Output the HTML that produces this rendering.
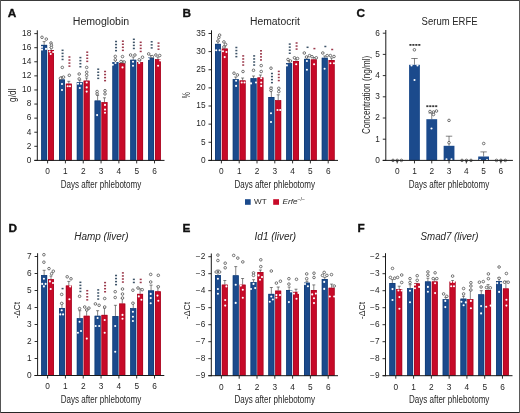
<!DOCTYPE html>
<html><head><meta charset="utf-8"><style>
html,body{margin:0;padding:0;background:#fff;}
body{width:520px;height:413px;overflow:hidden;position:relative;}
svg{position:absolute;left:0;top:0;font-family:'Liberation Sans', sans-serif;filter:blur(0.3px);}
</style></head><body>
<svg width="520" height="413" viewBox="0 0 520 413">
<rect x="0" y="0" width="520" height="413" fill="#fff"/>
<text x="7.85" y="16.90" font-size="11.8" text-anchor="start" fill="#111" font-weight="bold" stroke="#111" stroke-width="0.35">A</text>
<text x="101.00" y="24.50" font-size="10" text-anchor="middle" fill="#262626" textLength="56.5" lengthAdjust="spacingAndGlyphs">Hemoglobin</text>
<line x1="44.15" y1="41.60" x2="44.15" y2="44.90" stroke="#333" stroke-width="0.6"/>
<line x1="42.65" y1="41.60" x2="45.65" y2="41.60" stroke="#333" stroke-width="0.6"/>
<rect x="41.20" y="44.90" width="5.90" height="115.50" fill="#1b4a8c"/>
<rect x="41.50" y="45.20" width="5.30" height="115.20" fill="none" stroke="#0f3a72" stroke-width="0.6"/>
<circle cx="42.00" cy="37.30" r="1.3" fill="#fff" stroke="#4a4a4a" stroke-width="0.75"/>
<circle cx="46.30" cy="39.10" r="1.3" fill="#fff" stroke="#4a4a4a" stroke-width="0.75"/>
<circle cx="42.00" cy="47.00" r="1.05" fill="#fff"/>
<circle cx="42.00" cy="49.60" r="1.05" fill="#fff"/>
<circle cx="46.00" cy="48.90" r="1.05" fill="#fff"/>
<line x1="51.00" y1="47.50" x2="51.00" y2="50.00" stroke="#333" stroke-width="0.6"/>
<line x1="49.50" y1="47.50" x2="52.50" y2="47.50" stroke="#333" stroke-width="0.6"/>
<rect x="48.05" y="50.00" width="5.90" height="110.40" fill="#c70a28"/>
<rect x="48.35" y="50.30" width="5.30" height="110.10" fill="none" stroke="#a0061e" stroke-width="0.6"/>
<circle cx="51.00" cy="43.00" r="1.3" fill="#fff" stroke="#4a4a4a" stroke-width="0.75"/>
<circle cx="51.40" cy="45.20" r="1.3" fill="#fff" stroke="#4a4a4a" stroke-width="0.75"/>
<circle cx="51.40" cy="47.50" r="1.3" fill="#fff" stroke="#4a4a4a" stroke-width="0.75"/>
<circle cx="49.60" cy="51.50" r="1.05" fill="#fff"/>
<circle cx="53.20" cy="52.00" r="1.05" fill="#fff"/>
<circle cx="50.70" cy="54.00" r="1.05" fill="#fff"/>
<line x1="61.97" y1="76.70" x2="61.97" y2="79.50" stroke="#333" stroke-width="0.6"/>
<line x1="60.47" y1="76.70" x2="63.47" y2="76.70" stroke="#333" stroke-width="0.6"/>
<rect x="59.02" y="79.50" width="5.90" height="80.90" fill="#1b4a8c"/>
<rect x="59.32" y="79.80" width="5.30" height="80.60" fill="none" stroke="#0f3a72" stroke-width="0.6"/>
<circle cx="62.30" cy="67.40" r="1.3" fill="#fff" stroke="#4a4a4a" stroke-width="0.75"/>
<circle cx="60.40" cy="78.30" r="1.3" fill="#fff" stroke="#4a4a4a" stroke-width="0.75"/>
<circle cx="63.50" cy="77.10" r="1.3" fill="#fff" stroke="#4a4a4a" stroke-width="0.75"/>
<circle cx="62.00" cy="84.00" r="1.05" fill="#fff"/>
<circle cx="62.00" cy="90.00" r="1.05" fill="#fff"/>
<rect x="61.57" y="49.55" width="2.0" height="1.5" fill="#3e5468"/>
<rect x="61.57" y="52.60" width="2.0" height="1.5" fill="#3e5468"/>
<rect x="61.57" y="55.65" width="2.0" height="1.5" fill="#3e5468"/>
<rect x="61.57" y="58.70" width="2.0" height="1.5" fill="#3e5468"/>
<line x1="68.82" y1="81.30" x2="68.82" y2="83.70" stroke="#333" stroke-width="0.6"/>
<line x1="67.32" y1="81.30" x2="70.32" y2="81.30" stroke="#333" stroke-width="0.6"/>
<rect x="65.87" y="83.70" width="5.90" height="76.70" fill="#c70a28"/>
<rect x="66.17" y="84.00" width="5.30" height="76.40" fill="none" stroke="#a0061e" stroke-width="0.6"/>
<circle cx="69.30" cy="75.30" r="1.3" fill="#fff" stroke="#4a4a4a" stroke-width="0.75"/>
<circle cx="67.70" cy="86.20" r="1.05" fill="#fff"/>
<circle cx="70.00" cy="86.20" r="1.05" fill="#fff"/>
<rect x="68.42" y="56.25" width="2.0" height="1.5" fill="#9c3a4c"/>
<rect x="68.42" y="59.30" width="2.0" height="1.5" fill="#9c3a4c"/>
<rect x="68.42" y="62.35" width="2.0" height="1.5" fill="#9c3a4c"/>
<rect x="68.42" y="65.40" width="2.0" height="1.5" fill="#9c3a4c"/>
<line x1="79.79" y1="80.00" x2="79.79" y2="82.30" stroke="#333" stroke-width="0.6"/>
<line x1="78.29" y1="80.00" x2="81.29" y2="80.00" stroke="#333" stroke-width="0.6"/>
<rect x="76.84" y="82.30" width="5.90" height="78.10" fill="#1b4a8c"/>
<rect x="77.14" y="82.60" width="5.30" height="77.80" fill="none" stroke="#0f3a72" stroke-width="0.6"/>
<circle cx="79.20" cy="74.00" r="1.3" fill="#fff" stroke="#4a4a4a" stroke-width="0.75"/>
<circle cx="79.20" cy="78.90" r="1.3" fill="#fff" stroke="#4a4a4a" stroke-width="0.75"/>
<circle cx="78.00" cy="83.70" r="1.05" fill="#fff"/>
<circle cx="81.00" cy="83.70" r="1.05" fill="#fff"/>
<circle cx="79.80" cy="88.00" r="1.05" fill="#fff"/>
<rect x="79.39" y="56.85" width="2.0" height="1.5" fill="#3e5468"/>
<rect x="79.39" y="59.90" width="2.0" height="1.5" fill="#3e5468"/>
<rect x="79.39" y="62.95" width="2.0" height="1.5" fill="#3e5468"/>
<rect x="79.39" y="66.00" width="2.0" height="1.5" fill="#3e5468"/>
<line x1="86.64" y1="78.00" x2="86.64" y2="80.70" stroke="#333" stroke-width="0.6"/>
<line x1="85.14" y1="78.00" x2="88.14" y2="78.00" stroke="#333" stroke-width="0.6"/>
<rect x="83.69" y="80.70" width="5.90" height="79.70" fill="#c70a28"/>
<rect x="83.99" y="81.00" width="5.30" height="79.40" fill="none" stroke="#a0061e" stroke-width="0.6"/>
<circle cx="86.70" cy="67.40" r="1.3" fill="#fff" stroke="#4a4a4a" stroke-width="0.75"/>
<circle cx="86.70" cy="72.20" r="1.3" fill="#fff" stroke="#4a4a4a" stroke-width="0.75"/>
<circle cx="86.70" cy="75.30" r="1.3" fill="#fff" stroke="#4a4a4a" stroke-width="0.75"/>
<circle cx="86.70" cy="82.50" r="1.05" fill="#fff"/>
<circle cx="86.70" cy="87.40" r="1.05" fill="#fff"/>
<circle cx="86.70" cy="91.60" r="1.05" fill="#fff"/>
<rect x="86.24" y="51.45" width="2.0" height="1.5" fill="#9c3a4c"/>
<rect x="86.24" y="54.50" width="2.0" height="1.5" fill="#9c3a4c"/>
<rect x="86.24" y="57.55" width="2.0" height="1.5" fill="#9c3a4c"/>
<rect x="86.24" y="60.60" width="2.0" height="1.5" fill="#9c3a4c"/>
<line x1="97.61" y1="95.40" x2="97.61" y2="100.60" stroke="#333" stroke-width="0.6"/>
<line x1="96.11" y1="95.40" x2="99.11" y2="95.40" stroke="#333" stroke-width="0.6"/>
<rect x="94.66" y="100.60" width="5.90" height="59.80" fill="#1b4a8c"/>
<rect x="94.96" y="100.90" width="5.30" height="59.50" fill="none" stroke="#0f3a72" stroke-width="0.6"/>
<circle cx="97.10" cy="91.50" r="1.3" fill="#fff" stroke="#4a4a4a" stroke-width="0.75"/>
<circle cx="97.10" cy="93.90" r="1.3" fill="#fff" stroke="#4a4a4a" stroke-width="0.75"/>
<circle cx="97.10" cy="115.10" r="1.05" fill="#fff"/>
<rect x="97.21" y="68.45" width="2.0" height="1.5" fill="#3e5468"/>
<rect x="97.21" y="71.50" width="2.0" height="1.5" fill="#3e5468"/>
<rect x="97.21" y="74.55" width="2.0" height="1.5" fill="#3e5468"/>
<rect x="97.21" y="77.60" width="2.0" height="1.5" fill="#3e5468"/>
<line x1="104.46" y1="97.80" x2="104.46" y2="102.20" stroke="#333" stroke-width="0.6"/>
<line x1="102.96" y1="97.80" x2="105.96" y2="97.80" stroke="#333" stroke-width="0.6"/>
<rect x="101.51" y="102.20" width="5.90" height="58.20" fill="#c70a28"/>
<rect x="101.81" y="102.50" width="5.30" height="57.90" fill="none" stroke="#a0061e" stroke-width="0.6"/>
<circle cx="105.00" cy="90.70" r="1.3" fill="#fff" stroke="#4a4a4a" stroke-width="0.75"/>
<circle cx="105.00" cy="93.90" r="1.3" fill="#fff" stroke="#4a4a4a" stroke-width="0.75"/>
<circle cx="105.00" cy="104.90" r="1.05" fill="#fff"/>
<circle cx="105.00" cy="109.60" r="1.05" fill="#fff"/>
<circle cx="105.00" cy="112.80" r="1.05" fill="#fff"/>
<rect x="104.06" y="70.75" width="2.0" height="1.5" fill="#9c3a4c"/>
<rect x="104.06" y="73.80" width="2.0" height="1.5" fill="#9c3a4c"/>
<rect x="104.06" y="76.85" width="2.0" height="1.5" fill="#9c3a4c"/>
<rect x="104.06" y="79.90" width="2.0" height="1.5" fill="#9c3a4c"/>
<line x1="115.43" y1="60.00" x2="115.43" y2="62.20" stroke="#333" stroke-width="0.6"/>
<line x1="113.93" y1="60.00" x2="116.93" y2="60.00" stroke="#333" stroke-width="0.6"/>
<rect x="112.48" y="62.20" width="5.90" height="98.20" fill="#1b4a8c"/>
<rect x="112.78" y="62.50" width="5.30" height="97.90" fill="none" stroke="#0f3a72" stroke-width="0.6"/>
<circle cx="115.30" cy="56.40" r="1.3" fill="#fff" stroke="#4a4a4a" stroke-width="0.75"/>
<circle cx="115.30" cy="59.80" r="1.3" fill="#fff" stroke="#4a4a4a" stroke-width="0.75"/>
<circle cx="112.80" cy="64.70" r="1.05" fill="#fff"/>
<circle cx="115.50" cy="63.00" r="1.05" fill="#fff"/>
<rect x="115.03" y="40.75" width="2.0" height="1.5" fill="#3e5468"/>
<rect x="115.03" y="43.80" width="2.0" height="1.5" fill="#3e5468"/>
<rect x="115.03" y="46.85" width="2.0" height="1.5" fill="#3e5468"/>
<rect x="115.03" y="49.90" width="2.0" height="1.5" fill="#3e5468"/>
<line x1="122.28" y1="61.00" x2="122.28" y2="63.10" stroke="#333" stroke-width="0.6"/>
<line x1="120.78" y1="61.00" x2="123.78" y2="61.00" stroke="#333" stroke-width="0.6"/>
<rect x="119.33" y="63.10" width="5.90" height="97.30" fill="#c70a28"/>
<rect x="119.63" y="63.40" width="5.30" height="97.00" fill="none" stroke="#a0061e" stroke-width="0.6"/>
<circle cx="122.50" cy="56.60" r="1.3" fill="#fff" stroke="#4a4a4a" stroke-width="0.75"/>
<circle cx="121.00" cy="61.50" r="1.3" fill="#fff" stroke="#4a4a4a" stroke-width="0.75"/>
<circle cx="124.20" cy="62.00" r="1.3" fill="#fff" stroke="#4a4a4a" stroke-width="0.75"/>
<circle cx="122.50" cy="67.40" r="1.05" fill="#fff"/>
<rect x="121.88" y="40.45" width="2.0" height="1.5" fill="#9c3a4c"/>
<rect x="121.88" y="43.50" width="2.0" height="1.5" fill="#9c3a4c"/>
<rect x="121.88" y="46.55" width="2.0" height="1.5" fill="#9c3a4c"/>
<rect x="121.88" y="49.60" width="2.0" height="1.5" fill="#9c3a4c"/>
<line x1="133.25" y1="57.00" x2="133.25" y2="59.80" stroke="#333" stroke-width="0.6"/>
<line x1="131.75" y1="57.00" x2="134.75" y2="57.00" stroke="#333" stroke-width="0.6"/>
<rect x="130.30" y="59.80" width="5.90" height="100.60" fill="#1b4a8c"/>
<rect x="130.60" y="60.10" width="5.30" height="100.30" fill="none" stroke="#0f3a72" stroke-width="0.6"/>
<circle cx="130.60" cy="55.00" r="1.3" fill="#fff" stroke="#4a4a4a" stroke-width="0.75"/>
<circle cx="134.90" cy="55.00" r="1.3" fill="#fff" stroke="#4a4a4a" stroke-width="0.75"/>
<circle cx="133.00" cy="61.80" r="1.05" fill="#fff"/>
<circle cx="133.00" cy="65.80" r="1.05" fill="#fff"/>
<rect x="132.85" y="38.55" width="2.0" height="1.5" fill="#3e5468"/>
<rect x="132.85" y="41.60" width="2.0" height="1.5" fill="#3e5468"/>
<rect x="132.85" y="44.65" width="2.0" height="1.5" fill="#3e5468"/>
<rect x="132.85" y="47.70" width="2.0" height="1.5" fill="#3e5468"/>
<line x1="140.10" y1="60.00" x2="140.10" y2="62.20" stroke="#333" stroke-width="0.6"/>
<line x1="138.60" y1="60.00" x2="141.60" y2="60.00" stroke="#333" stroke-width="0.6"/>
<rect x="137.15" y="62.20" width="5.90" height="98.20" fill="#c70a28"/>
<rect x="137.45" y="62.50" width="5.30" height="97.90" fill="none" stroke="#a0061e" stroke-width="0.6"/>
<circle cx="142.50" cy="57.20" r="1.3" fill="#fff" stroke="#4a4a4a" stroke-width="0.75"/>
<circle cx="139.20" cy="59.80" r="1.3" fill="#fff" stroke="#4a4a4a" stroke-width="0.75"/>
<circle cx="139.20" cy="62.90" r="1.05" fill="#fff"/>
<rect x="139.70" y="41.55" width="2.0" height="1.5" fill="#9c3a4c"/>
<rect x="139.70" y="44.60" width="2.0" height="1.5" fill="#9c3a4c"/>
<rect x="139.70" y="47.65" width="2.0" height="1.5" fill="#9c3a4c"/>
<rect x="139.70" y="50.70" width="2.0" height="1.5" fill="#9c3a4c"/>
<line x1="151.07" y1="55.50" x2="151.07" y2="57.70" stroke="#333" stroke-width="0.6"/>
<line x1="149.57" y1="55.50" x2="152.57" y2="55.50" stroke="#333" stroke-width="0.6"/>
<rect x="148.12" y="57.70" width="5.90" height="102.70" fill="#1b4a8c"/>
<rect x="148.42" y="58.00" width="5.30" height="102.40" fill="none" stroke="#0f3a72" stroke-width="0.6"/>
<circle cx="148.70" cy="53.90" r="1.3" fill="#fff" stroke="#4a4a4a" stroke-width="0.75"/>
<circle cx="152.20" cy="56.60" r="1.3" fill="#fff" stroke="#4a4a4a" stroke-width="0.75"/>
<circle cx="148.70" cy="59.00" r="1.05" fill="#fff"/>
<rect x="150.67" y="41.05" width="2.0" height="1.5" fill="#3e5468"/>
<rect x="150.67" y="44.10" width="2.0" height="1.5" fill="#3e5468"/>
<rect x="150.67" y="47.15" width="2.0" height="1.5" fill="#3e5468"/>
<line x1="157.92" y1="57.00" x2="157.92" y2="59.30" stroke="#333" stroke-width="0.6"/>
<line x1="156.42" y1="57.00" x2="159.42" y2="57.00" stroke="#333" stroke-width="0.6"/>
<rect x="154.97" y="59.30" width="5.90" height="101.10" fill="#c70a28"/>
<rect x="155.27" y="59.60" width="5.30" height="100.80" fill="none" stroke="#a0061e" stroke-width="0.6"/>
<circle cx="155.90" cy="55.00" r="1.3" fill="#fff" stroke="#4a4a4a" stroke-width="0.75"/>
<circle cx="159.70" cy="55.50" r="1.3" fill="#fff" stroke="#4a4a4a" stroke-width="0.75"/>
<circle cx="158.10" cy="65.80" r="1.05" fill="#fff"/>
<circle cx="160.20" cy="60.40" r="1.05" fill="#fff"/>
<rect x="157.52" y="42.35" width="2.0" height="1.5" fill="#9c3a4c"/>
<rect x="157.52" y="45.40" width="2.0" height="1.5" fill="#9c3a4c"/>
<rect x="157.52" y="48.45" width="2.0" height="1.5" fill="#9c3a4c"/>
<line x1="37.30" y1="30.30" x2="37.30" y2="160.90" stroke="#1a1a1a" stroke-width="1"/>
<line x1="34.30" y1="160.40" x2="37.30" y2="160.40" stroke="#1a1a1a" stroke-width="0.9"/>
<text x="31.30" y="162.70" font-size="8.3" text-anchor="end" fill="#262626">0</text>
<line x1="34.30" y1="146.31" x2="37.30" y2="146.31" stroke="#1a1a1a" stroke-width="0.9"/>
<text x="31.30" y="148.61" font-size="8.3" text-anchor="end" fill="#262626">2</text>
<line x1="34.30" y1="132.22" x2="37.30" y2="132.22" stroke="#1a1a1a" stroke-width="0.9"/>
<text x="31.30" y="134.52" font-size="8.3" text-anchor="end" fill="#262626">4</text>
<line x1="34.30" y1="118.14" x2="37.30" y2="118.14" stroke="#1a1a1a" stroke-width="0.9"/>
<text x="31.30" y="120.44" font-size="8.3" text-anchor="end" fill="#262626">6</text>
<line x1="34.30" y1="104.05" x2="37.30" y2="104.05" stroke="#1a1a1a" stroke-width="0.9"/>
<text x="31.30" y="106.35" font-size="8.3" text-anchor="end" fill="#262626">8</text>
<line x1="34.30" y1="89.96" x2="37.30" y2="89.96" stroke="#1a1a1a" stroke-width="0.9"/>
<text x="31.30" y="92.26" font-size="8.3" text-anchor="end" fill="#262626">10</text>
<line x1="34.30" y1="75.87" x2="37.30" y2="75.87" stroke="#1a1a1a" stroke-width="0.9"/>
<text x="31.30" y="78.17" font-size="8.3" text-anchor="end" fill="#262626">12</text>
<line x1="34.30" y1="61.78" x2="37.30" y2="61.78" stroke="#1a1a1a" stroke-width="0.9"/>
<text x="31.30" y="64.08" font-size="8.3" text-anchor="end" fill="#262626">14</text>
<line x1="34.30" y1="47.70" x2="37.30" y2="47.70" stroke="#1a1a1a" stroke-width="0.9"/>
<text x="31.30" y="50.00" font-size="8.3" text-anchor="end" fill="#262626">16</text>
<line x1="34.30" y1="33.61" x2="37.30" y2="33.61" stroke="#1a1a1a" stroke-width="0.9"/>
<text x="31.30" y="35.91" font-size="8.3" text-anchor="end" fill="#262626">18</text>
<line x1="34.40" y1="160.40" x2="164.50" y2="160.40" stroke="#1a1a1a" stroke-width="1"/>
<line x1="47.60" y1="160.40" x2="47.60" y2="163.40" stroke="#1a1a1a" stroke-width="0.9"/>
<text x="47.60" y="174.20" font-size="8.3" text-anchor="middle" fill="#262626">0</text>
<line x1="65.42" y1="160.40" x2="65.42" y2="163.40" stroke="#1a1a1a" stroke-width="0.9"/>
<text x="65.42" y="174.20" font-size="8.3" text-anchor="middle" fill="#262626">1</text>
<line x1="83.24" y1="160.40" x2="83.24" y2="163.40" stroke="#1a1a1a" stroke-width="0.9"/>
<text x="83.24" y="174.20" font-size="8.3" text-anchor="middle" fill="#262626">2</text>
<line x1="101.06" y1="160.40" x2="101.06" y2="163.40" stroke="#1a1a1a" stroke-width="0.9"/>
<text x="101.06" y="174.20" font-size="8.3" text-anchor="middle" fill="#262626">3</text>
<line x1="118.88" y1="160.40" x2="118.88" y2="163.40" stroke="#1a1a1a" stroke-width="0.9"/>
<text x="118.88" y="174.20" font-size="8.3" text-anchor="middle" fill="#262626">4</text>
<line x1="136.70" y1="160.40" x2="136.70" y2="163.40" stroke="#1a1a1a" stroke-width="0.9"/>
<text x="136.70" y="174.20" font-size="8.3" text-anchor="middle" fill="#262626">5</text>
<line x1="154.52" y1="160.40" x2="154.52" y2="163.40" stroke="#1a1a1a" stroke-width="0.9"/>
<text x="154.52" y="174.20" font-size="8.3" text-anchor="middle" fill="#262626">6</text>
<text x="101.06" y="188.10" font-size="10" text-anchor="middle" fill="#262626" textLength="80.5" lengthAdjust="spacingAndGlyphs">Days after phlebotomy</text>
<text x="15.80" y="95.20" font-size="10" text-anchor="middle" fill="#262626" textLength="13.5" lengthAdjust="spacingAndGlyphs" transform="rotate(-90 15.80 95.20)">g/dl</text>
<text x="182.60" y="17.00" font-size="11.8" text-anchor="start" fill="#111" font-weight="bold" stroke="#111" stroke-width="0.35">B</text>
<text x="275.00" y="24.50" font-size="10" text-anchor="middle" fill="#262626" textLength="50" lengthAdjust="spacingAndGlyphs">Hematocrit</text>
<line x1="217.95" y1="41.50" x2="217.95" y2="43.90" stroke="#333" stroke-width="0.6"/>
<line x1="216.45" y1="41.50" x2="219.45" y2="41.50" stroke="#333" stroke-width="0.6"/>
<rect x="215.00" y="43.90" width="5.90" height="116.50" fill="#1b4a8c"/>
<rect x="215.30" y="44.20" width="5.30" height="116.20" fill="none" stroke="#0f3a72" stroke-width="0.6"/>
<circle cx="219.60" cy="35.10" r="1.3" fill="#fff" stroke="#4a4a4a" stroke-width="0.75"/>
<circle cx="218.80" cy="37.60" r="1.3" fill="#fff" stroke="#4a4a4a" stroke-width="0.75"/>
<circle cx="218.00" cy="41.00" r="1.3" fill="#fff" stroke="#4a4a4a" stroke-width="0.75"/>
<circle cx="216.20" cy="50.30" r="1.05" fill="#fff"/>
<circle cx="219.60" cy="50.30" r="1.05" fill="#fff"/>
<line x1="224.80" y1="46.00" x2="224.80" y2="48.60" stroke="#333" stroke-width="0.6"/>
<line x1="223.30" y1="46.00" x2="226.30" y2="46.00" stroke="#333" stroke-width="0.6"/>
<rect x="221.85" y="48.60" width="5.90" height="111.80" fill="#c70a28"/>
<rect x="222.15" y="48.90" width="5.30" height="111.50" fill="none" stroke="#a0061e" stroke-width="0.6"/>
<circle cx="223.90" cy="41.90" r="1.3" fill="#fff" stroke="#4a4a4a" stroke-width="0.75"/>
<circle cx="225.60" cy="44.40" r="1.3" fill="#fff" stroke="#4a4a4a" stroke-width="0.75"/>
<circle cx="223.90" cy="47.00" r="1.3" fill="#fff" stroke="#4a4a4a" stroke-width="0.75"/>
<circle cx="223.00" cy="51.20" r="1.05" fill="#fff"/>
<circle cx="226.40" cy="52.00" r="1.05" fill="#fff"/>
<circle cx="224.70" cy="57.10" r="1.05" fill="#fff"/>
<line x1="235.75" y1="77.00" x2="235.75" y2="79.20" stroke="#333" stroke-width="0.6"/>
<line x1="234.25" y1="77.00" x2="237.25" y2="77.00" stroke="#333" stroke-width="0.6"/>
<rect x="232.80" y="79.20" width="5.90" height="81.20" fill="#1b4a8c"/>
<rect x="233.10" y="79.50" width="5.30" height="80.90" fill="none" stroke="#0f3a72" stroke-width="0.6"/>
<circle cx="234.00" cy="73.20" r="1.3" fill="#fff" stroke="#4a4a4a" stroke-width="0.75"/>
<circle cx="237.40" cy="74.90" r="1.3" fill="#fff" stroke="#4a4a4a" stroke-width="0.75"/>
<circle cx="236.10" cy="80.80" r="1.05" fill="#fff"/>
<circle cx="236.10" cy="85.90" r="1.05" fill="#fff"/>
<rect x="235.35" y="46.75" width="2.0" height="1.5" fill="#3e5468"/>
<rect x="235.35" y="49.80" width="2.0" height="1.5" fill="#3e5468"/>
<rect x="235.35" y="52.85" width="2.0" height="1.5" fill="#3e5468"/>
<rect x="235.35" y="55.90" width="2.0" height="1.5" fill="#3e5468"/>
<line x1="242.60" y1="78.00" x2="242.60" y2="80.50" stroke="#333" stroke-width="0.6"/>
<line x1="241.10" y1="78.00" x2="244.10" y2="78.00" stroke="#333" stroke-width="0.6"/>
<rect x="239.65" y="80.50" width="5.90" height="79.90" fill="#c70a28"/>
<rect x="239.95" y="80.80" width="5.30" height="79.60" fill="none" stroke="#a0061e" stroke-width="0.6"/>
<circle cx="243.00" cy="71.50" r="1.3" fill="#fff" stroke="#4a4a4a" stroke-width="0.75"/>
<circle cx="241.70" cy="82.50" r="1.05" fill="#fff"/>
<circle cx="244.50" cy="82.50" r="1.05" fill="#fff"/>
<rect x="242.20" y="55.15" width="2.0" height="1.5" fill="#9c3a4c"/>
<rect x="242.20" y="58.20" width="2.0" height="1.5" fill="#9c3a4c"/>
<rect x="242.20" y="61.25" width="2.0" height="1.5" fill="#9c3a4c"/>
<rect x="242.20" y="64.30" width="2.0" height="1.5" fill="#9c3a4c"/>
<line x1="253.55" y1="76.00" x2="253.55" y2="78.30" stroke="#333" stroke-width="0.6"/>
<line x1="252.05" y1="76.00" x2="255.05" y2="76.00" stroke="#333" stroke-width="0.6"/>
<rect x="250.60" y="78.30" width="5.90" height="82.10" fill="#1b4a8c"/>
<rect x="250.90" y="78.60" width="5.30" height="81.80" fill="none" stroke="#0f3a72" stroke-width="0.6"/>
<circle cx="253.50" cy="70.30" r="1.3" fill="#fff" stroke="#4a4a4a" stroke-width="0.75"/>
<circle cx="251.00" cy="83.40" r="1.05" fill="#fff"/>
<circle cx="256.00" cy="82.50" r="1.05" fill="#fff"/>
<rect x="253.15" y="55.15" width="2.0" height="1.5" fill="#3e5468"/>
<rect x="253.15" y="58.20" width="2.0" height="1.5" fill="#3e5468"/>
<rect x="253.15" y="61.25" width="2.0" height="1.5" fill="#3e5468"/>
<rect x="253.15" y="64.30" width="2.0" height="1.5" fill="#3e5468"/>
<line x1="260.40" y1="75.00" x2="260.40" y2="77.50" stroke="#333" stroke-width="0.6"/>
<line x1="258.90" y1="75.00" x2="261.90" y2="75.00" stroke="#333" stroke-width="0.6"/>
<rect x="257.45" y="77.50" width="5.90" height="82.90" fill="#c70a28"/>
<rect x="257.75" y="77.80" width="5.30" height="82.60" fill="none" stroke="#a0061e" stroke-width="0.6"/>
<circle cx="261.20" cy="65.60" r="1.3" fill="#fff" stroke="#4a4a4a" stroke-width="0.75"/>
<circle cx="261.20" cy="71.50" r="1.3" fill="#fff" stroke="#4a4a4a" stroke-width="0.75"/>
<circle cx="261.20" cy="78.30" r="1.05" fill="#fff"/>
<circle cx="261.20" cy="82.50" r="1.05" fill="#fff"/>
<circle cx="261.20" cy="85.90" r="1.05" fill="#fff"/>
<rect x="260.00" y="50.05" width="2.0" height="1.5" fill="#9c3a4c"/>
<rect x="260.00" y="53.10" width="2.0" height="1.5" fill="#9c3a4c"/>
<rect x="260.00" y="56.15" width="2.0" height="1.5" fill="#9c3a4c"/>
<rect x="260.00" y="59.20" width="2.0" height="1.5" fill="#9c3a4c"/>
<line x1="271.35" y1="87.20" x2="271.35" y2="97.00" stroke="#333" stroke-width="0.6"/>
<line x1="269.85" y1="87.20" x2="272.85" y2="87.20" stroke="#333" stroke-width="0.6"/>
<rect x="268.40" y="97.00" width="5.90" height="63.40" fill="#1b4a8c"/>
<rect x="268.70" y="97.30" width="5.30" height="63.10" fill="none" stroke="#0f3a72" stroke-width="0.6"/>
<circle cx="271.00" cy="68.20" r="1.3" fill="#fff" stroke="#4a4a4a" stroke-width="0.75"/>
<circle cx="271.00" cy="88.30" r="1.3" fill="#fff" stroke="#4a4a4a" stroke-width="0.75"/>
<circle cx="271.00" cy="90.50" r="1.3" fill="#fff" stroke="#4a4a4a" stroke-width="0.75"/>
<circle cx="271.00" cy="113.30" r="1.05" fill="#fff"/>
<circle cx="271.00" cy="122.00" r="1.05" fill="#fff"/>
<rect x="270.95" y="72.75" width="2.0" height="1.5" fill="#3e5468"/>
<rect x="270.95" y="75.80" width="2.0" height="1.5" fill="#3e5468"/>
<rect x="270.95" y="78.85" width="2.0" height="1.5" fill="#3e5468"/>
<rect x="270.95" y="81.90" width="2.0" height="1.5" fill="#3e5468"/>
<line x1="278.20" y1="94.80" x2="278.20" y2="100.30" stroke="#333" stroke-width="0.6"/>
<line x1="276.70" y1="94.80" x2="279.70" y2="94.80" stroke="#333" stroke-width="0.6"/>
<rect x="275.25" y="100.30" width="5.90" height="60.10" fill="#c70a28"/>
<rect x="275.55" y="100.60" width="5.30" height="59.80" fill="none" stroke="#a0061e" stroke-width="0.6"/>
<circle cx="278.80" cy="88.30" r="1.3" fill="#fff" stroke="#4a4a4a" stroke-width="0.75"/>
<circle cx="278.80" cy="91.60" r="1.3" fill="#fff" stroke="#4a4a4a" stroke-width="0.75"/>
<circle cx="277.50" cy="110.00" r="1.05" fill="#fff"/>
<circle cx="280.20" cy="110.00" r="1.05" fill="#fff"/>
<rect x="277.80" y="70.65" width="2.0" height="1.5" fill="#9c3a4c"/>
<rect x="277.80" y="73.70" width="2.0" height="1.5" fill="#9c3a4c"/>
<rect x="277.80" y="76.75" width="2.0" height="1.5" fill="#9c3a4c"/>
<rect x="277.80" y="79.80" width="2.0" height="1.5" fill="#9c3a4c"/>
<line x1="289.15" y1="61.00" x2="289.15" y2="63.20" stroke="#333" stroke-width="0.6"/>
<line x1="287.65" y1="61.00" x2="290.65" y2="61.00" stroke="#333" stroke-width="0.6"/>
<rect x="286.20" y="63.20" width="5.90" height="97.20" fill="#1b4a8c"/>
<rect x="286.50" y="63.50" width="5.30" height="96.90" fill="none" stroke="#0f3a72" stroke-width="0.6"/>
<circle cx="288.00" cy="59.50" r="1.3" fill="#fff" stroke="#4a4a4a" stroke-width="0.75"/>
<circle cx="290.50" cy="61.00" r="1.3" fill="#fff" stroke="#4a4a4a" stroke-width="0.75"/>
<circle cx="286.90" cy="65.40" r="1.05" fill="#fff"/>
<rect x="288.75" y="43.35" width="2.0" height="1.5" fill="#3e5468"/>
<rect x="288.75" y="46.40" width="2.0" height="1.5" fill="#3e5468"/>
<rect x="288.75" y="49.45" width="2.0" height="1.5" fill="#3e5468"/>
<rect x="288.75" y="52.50" width="2.0" height="1.5" fill="#3e5468"/>
<line x1="296.00" y1="59.00" x2="296.00" y2="61.00" stroke="#333" stroke-width="0.6"/>
<line x1="294.50" y1="59.00" x2="297.50" y2="59.00" stroke="#333" stroke-width="0.6"/>
<rect x="293.05" y="61.00" width="5.90" height="99.40" fill="#c70a28"/>
<rect x="293.35" y="61.30" width="5.30" height="99.10" fill="none" stroke="#a0061e" stroke-width="0.6"/>
<circle cx="294.50" cy="57.80" r="1.3" fill="#fff" stroke="#4a4a4a" stroke-width="0.75"/>
<circle cx="297.50" cy="58.50" r="1.3" fill="#fff" stroke="#4a4a4a" stroke-width="0.75"/>
<circle cx="296.20" cy="64.30" r="1.05" fill="#fff"/>
<rect x="295.60" y="42.25" width="2.0" height="1.5" fill="#9c3a4c"/>
<rect x="295.60" y="45.30" width="2.0" height="1.5" fill="#9c3a4c"/>
<rect x="295.60" y="48.35" width="2.0" height="1.5" fill="#9c3a4c"/>
<line x1="306.95" y1="57.00" x2="306.95" y2="58.90" stroke="#333" stroke-width="0.6"/>
<line x1="305.45" y1="57.00" x2="308.45" y2="57.00" stroke="#333" stroke-width="0.6"/>
<rect x="304.00" y="58.90" width="5.90" height="101.50" fill="#1b4a8c"/>
<rect x="304.30" y="59.20" width="5.30" height="101.20" fill="none" stroke="#0f3a72" stroke-width="0.6"/>
<circle cx="304.30" cy="53.00" r="1.3" fill="#fff" stroke="#4a4a4a" stroke-width="0.75"/>
<circle cx="309.50" cy="55.60" r="1.3" fill="#fff" stroke="#4a4a4a" stroke-width="0.75"/>
<circle cx="306.50" cy="57.00" r="1.3" fill="#fff" stroke="#4a4a4a" stroke-width="0.75"/>
<circle cx="306.90" cy="61.00" r="1.05" fill="#fff"/>
<circle cx="306.90" cy="69.80" r="1.05" fill="#fff"/>
<rect x="306.55" y="46.55" width="2.0" height="1.5" fill="#3e5468"/>
<line x1="313.80" y1="57.50" x2="313.80" y2="59.50" stroke="#333" stroke-width="0.6"/>
<line x1="312.30" y1="57.50" x2="315.30" y2="57.50" stroke="#333" stroke-width="0.6"/>
<rect x="310.85" y="59.50" width="5.90" height="100.90" fill="#c70a28"/>
<rect x="311.15" y="59.80" width="5.30" height="100.60" fill="none" stroke="#a0061e" stroke-width="0.6"/>
<circle cx="312.00" cy="56.70" r="1.3" fill="#fff" stroke="#4a4a4a" stroke-width="0.75"/>
<circle cx="316.30" cy="57.80" r="1.3" fill="#fff" stroke="#4a4a4a" stroke-width="0.75"/>
<circle cx="314.10" cy="64.30" r="1.05" fill="#fff"/>
<rect x="313.40" y="47.85" width="2.0" height="1.5" fill="#9c3a4c"/>
<line x1="324.75" y1="56.00" x2="324.75" y2="57.80" stroke="#333" stroke-width="0.6"/>
<line x1="323.25" y1="56.00" x2="326.25" y2="56.00" stroke="#333" stroke-width="0.6"/>
<rect x="321.80" y="57.80" width="5.90" height="102.60" fill="#1b4a8c"/>
<rect x="322.10" y="58.10" width="5.30" height="102.30" fill="none" stroke="#0f3a72" stroke-width="0.6"/>
<circle cx="322.80" cy="53.00" r="1.3" fill="#fff" stroke="#4a4a4a" stroke-width="0.75"/>
<circle cx="327.20" cy="55.60" r="1.3" fill="#fff" stroke="#4a4a4a" stroke-width="0.75"/>
<circle cx="324.60" cy="68.70" r="1.05" fill="#fff"/>
<rect x="324.35" y="45.75" width="2.0" height="1.5" fill="#3e5468"/>
<line x1="331.60" y1="58.00" x2="331.60" y2="60.00" stroke="#333" stroke-width="0.6"/>
<line x1="330.10" y1="58.00" x2="333.10" y2="58.00" stroke="#333" stroke-width="0.6"/>
<rect x="328.65" y="60.00" width="5.90" height="100.40" fill="#c70a28"/>
<rect x="328.95" y="60.30" width="5.30" height="100.10" fill="none" stroke="#a0061e" stroke-width="0.6"/>
<circle cx="330.40" cy="55.60" r="1.3" fill="#fff" stroke="#4a4a4a" stroke-width="0.75"/>
<circle cx="334.00" cy="56.50" r="1.3" fill="#fff" stroke="#4a4a4a" stroke-width="0.75"/>
<circle cx="330.40" cy="63.20" r="1.05" fill="#fff"/>
<circle cx="334.00" cy="63.20" r="1.05" fill="#fff"/>
<rect x="331.20" y="48.75" width="2.0" height="1.5" fill="#9c3a4c"/>
<line x1="211.50" y1="30.30" x2="211.50" y2="160.90" stroke="#1a1a1a" stroke-width="1"/>
<line x1="208.50" y1="160.40" x2="211.50" y2="160.40" stroke="#1a1a1a" stroke-width="0.9"/>
<text x="205.50" y="162.70" font-size="8.3" text-anchor="end" fill="#262626">0</text>
<line x1="208.50" y1="142.27" x2="211.50" y2="142.27" stroke="#1a1a1a" stroke-width="0.9"/>
<text x="205.50" y="144.57" font-size="8.3" text-anchor="end" fill="#262626">5</text>
<line x1="208.50" y1="124.14" x2="211.50" y2="124.14" stroke="#1a1a1a" stroke-width="0.9"/>
<text x="205.50" y="126.44" font-size="8.3" text-anchor="end" fill="#262626">10</text>
<line x1="208.50" y1="106.01" x2="211.50" y2="106.01" stroke="#1a1a1a" stroke-width="0.9"/>
<text x="205.50" y="108.31" font-size="8.3" text-anchor="end" fill="#262626">15</text>
<line x1="208.50" y1="87.88" x2="211.50" y2="87.88" stroke="#1a1a1a" stroke-width="0.9"/>
<text x="205.50" y="90.18" font-size="8.3" text-anchor="end" fill="#262626">20</text>
<line x1="208.50" y1="69.75" x2="211.50" y2="69.75" stroke="#1a1a1a" stroke-width="0.9"/>
<text x="205.50" y="72.05" font-size="8.3" text-anchor="end" fill="#262626">25</text>
<line x1="208.50" y1="51.62" x2="211.50" y2="51.62" stroke="#1a1a1a" stroke-width="0.9"/>
<text x="205.50" y="53.92" font-size="8.3" text-anchor="end" fill="#262626">30</text>
<line x1="208.50" y1="33.49" x2="211.50" y2="33.49" stroke="#1a1a1a" stroke-width="0.9"/>
<text x="205.50" y="35.79" font-size="8.3" text-anchor="end" fill="#262626">35</text>
<line x1="208.30" y1="160.40" x2="338.00" y2="160.40" stroke="#1a1a1a" stroke-width="1"/>
<line x1="221.40" y1="160.40" x2="221.40" y2="163.40" stroke="#1a1a1a" stroke-width="0.9"/>
<text x="221.40" y="174.20" font-size="8.3" text-anchor="middle" fill="#262626">0</text>
<line x1="239.20" y1="160.40" x2="239.20" y2="163.40" stroke="#1a1a1a" stroke-width="0.9"/>
<text x="239.20" y="174.20" font-size="8.3" text-anchor="middle" fill="#262626">1</text>
<line x1="257.00" y1="160.40" x2="257.00" y2="163.40" stroke="#1a1a1a" stroke-width="0.9"/>
<text x="257.00" y="174.20" font-size="8.3" text-anchor="middle" fill="#262626">2</text>
<line x1="274.80" y1="160.40" x2="274.80" y2="163.40" stroke="#1a1a1a" stroke-width="0.9"/>
<text x="274.80" y="174.20" font-size="8.3" text-anchor="middle" fill="#262626">3</text>
<line x1="292.60" y1="160.40" x2="292.60" y2="163.40" stroke="#1a1a1a" stroke-width="0.9"/>
<text x="292.60" y="174.20" font-size="8.3" text-anchor="middle" fill="#262626">4</text>
<line x1="310.40" y1="160.40" x2="310.40" y2="163.40" stroke="#1a1a1a" stroke-width="0.9"/>
<text x="310.40" y="174.20" font-size="8.3" text-anchor="middle" fill="#262626">5</text>
<line x1="328.20" y1="160.40" x2="328.20" y2="163.40" stroke="#1a1a1a" stroke-width="0.9"/>
<text x="328.20" y="174.20" font-size="8.3" text-anchor="middle" fill="#262626">6</text>
<text x="274.80" y="188.10" font-size="10" text-anchor="middle" fill="#262626" textLength="80.5" lengthAdjust="spacingAndGlyphs">Days after phlebotomy</text>
<text x="189.90" y="95.15" font-size="10" text-anchor="middle" fill="#262626" textLength="6" lengthAdjust="spacingAndGlyphs" transform="rotate(-90 189.90 95.15)">%</text>
<text x="356.50" y="17.00" font-size="11.8" text-anchor="start" fill="#111" font-weight="bold" stroke="#111" stroke-width="0.35">C</text>
<text x="449.60" y="24.50" font-size="10" text-anchor="middle" fill="#262626" textLength="56" lengthAdjust="spacingAndGlyphs">Serum ERFE</text>
<circle cx="393.00" cy="160.40" r="1.3" fill="#fff" stroke="#4a4a4a" stroke-width="0.75"/>
<circle cx="397.20" cy="160.40" r="1.3" fill="#fff" stroke="#4a4a4a" stroke-width="0.75"/>
<circle cx="401.40" cy="160.40" r="1.3" fill="#fff" stroke="#4a4a4a" stroke-width="0.75"/>
<line x1="414.48" y1="58.50" x2="414.48" y2="64.80" stroke="#333" stroke-width="0.6"/>
<line x1="411.28" y1="58.50" x2="417.68" y2="58.50" stroke="#333" stroke-width="0.6"/>
<rect x="409.08" y="64.80" width="10.80" height="95.60" fill="#1b4a8c"/>
<circle cx="414.40" cy="49.80" r="1.3" fill="#fff" stroke="#4a4a4a" stroke-width="0.75"/>
<circle cx="411.50" cy="65.50" r="1.05" fill="#fff"/>
<circle cx="417.50" cy="65.50" r="1.05" fill="#fff"/>
<circle cx="414.50" cy="80.00" r="1.05" fill="#fff"/>
<rect x="409.40" y="44.00" width="2.1" height="1.8" fill="#3a3a3a"/>
<rect x="412.35" y="44.00" width="2.1" height="1.8" fill="#3a3a3a"/>
<rect x="415.30" y="44.00" width="2.1" height="1.8" fill="#3a3a3a"/>
<rect x="418.25" y="44.00" width="2.1" height="1.8" fill="#3a3a3a"/>
<line x1="431.76" y1="113.00" x2="431.76" y2="119.20" stroke="#333" stroke-width="0.6"/>
<line x1="428.56" y1="113.00" x2="434.96" y2="113.00" stroke="#333" stroke-width="0.6"/>
<rect x="426.36" y="119.20" width="10.80" height="41.20" fill="#1b4a8c"/>
<circle cx="430.00" cy="111.50" r="1.3" fill="#fff" stroke="#4a4a4a" stroke-width="0.75"/>
<circle cx="433.50" cy="112.00" r="1.3" fill="#fff" stroke="#4a4a4a" stroke-width="0.75"/>
<circle cx="436.50" cy="111.00" r="1.3" fill="#fff" stroke="#4a4a4a" stroke-width="0.75"/>
<circle cx="433.50" cy="114.50" r="1.3" fill="#fff" stroke="#4a4a4a" stroke-width="0.75"/>
<circle cx="431.50" cy="128.50" r="1.05" fill="#fff"/>
<rect x="426.30" y="105.30" width="2.1" height="1.8" fill="#3a3a3a"/>
<rect x="429.25" y="105.30" width="2.1" height="1.8" fill="#3a3a3a"/>
<rect x="432.20" y="105.30" width="2.1" height="1.8" fill="#3a3a3a"/>
<rect x="435.15" y="105.30" width="2.1" height="1.8" fill="#3a3a3a"/>
<line x1="449.04" y1="136.20" x2="449.04" y2="145.80" stroke="#333" stroke-width="0.6"/>
<line x1="445.84" y1="136.20" x2="452.24" y2="136.20" stroke="#333" stroke-width="0.6"/>
<rect x="443.64" y="145.80" width="10.80" height="14.60" fill="#1b4a8c"/>
<circle cx="449.00" cy="120.40" r="1.3" fill="#fff" stroke="#4a4a4a" stroke-width="0.75"/>
<circle cx="449.00" cy="142.70" r="1.3" fill="#fff" stroke="#4a4a4a" stroke-width="0.75"/>
<circle cx="446.50" cy="159.30" r="1.05" fill="#fff"/>
<circle cx="451.50" cy="159.30" r="1.05" fill="#fff"/>
<circle cx="462.00" cy="160.40" r="1.3" fill="#fff" stroke="#4a4a4a" stroke-width="0.75"/>
<circle cx="466.50" cy="160.40" r="1.3" fill="#fff" stroke="#4a4a4a" stroke-width="0.75"/>
<circle cx="471.00" cy="160.40" r="1.3" fill="#fff" stroke="#4a4a4a" stroke-width="0.75"/>
<line x1="483.60" y1="151.90" x2="483.60" y2="156.50" stroke="#333" stroke-width="0.6"/>
<line x1="480.40" y1="151.90" x2="486.80" y2="151.90" stroke="#333" stroke-width="0.6"/>
<rect x="478.20" y="156.50" width="10.80" height="3.90" fill="#1b4a8c"/>
<circle cx="483.70" cy="143.50" r="1.3" fill="#fff" stroke="#4a4a4a" stroke-width="0.75"/>
<circle cx="480.00" cy="160.00" r="1.05" fill="#fff"/>
<circle cx="487.00" cy="160.00" r="1.05" fill="#fff"/>
<circle cx="496.50" cy="160.40" r="1.3" fill="#fff" stroke="#4a4a4a" stroke-width="0.75"/>
<circle cx="500.90" cy="160.40" r="1.3" fill="#fff" stroke="#4a4a4a" stroke-width="0.75"/>
<circle cx="505.30" cy="160.40" r="1.3" fill="#fff" stroke="#4a4a4a" stroke-width="0.75"/>
<line x1="385.80" y1="30.00" x2="385.80" y2="160.90" stroke="#1a1a1a" stroke-width="1"/>
<line x1="382.80" y1="160.40" x2="385.80" y2="160.40" stroke="#1a1a1a" stroke-width="0.9"/>
<text x="379.80" y="162.70" font-size="8.3" text-anchor="end" fill="#262626">0</text>
<line x1="382.80" y1="139.20" x2="385.80" y2="139.20" stroke="#1a1a1a" stroke-width="0.9"/>
<text x="379.80" y="141.50" font-size="8.3" text-anchor="end" fill="#262626">1</text>
<line x1="382.80" y1="118.00" x2="385.80" y2="118.00" stroke="#1a1a1a" stroke-width="0.9"/>
<text x="379.80" y="120.30" font-size="8.3" text-anchor="end" fill="#262626">2</text>
<line x1="382.80" y1="96.80" x2="385.80" y2="96.80" stroke="#1a1a1a" stroke-width="0.9"/>
<text x="379.80" y="99.10" font-size="8.3" text-anchor="end" fill="#262626">3</text>
<line x1="382.80" y1="75.60" x2="385.80" y2="75.60" stroke="#1a1a1a" stroke-width="0.9"/>
<text x="379.80" y="77.90" font-size="8.3" text-anchor="end" fill="#262626">4</text>
<line x1="382.80" y1="54.40" x2="385.80" y2="54.40" stroke="#1a1a1a" stroke-width="0.9"/>
<text x="379.80" y="56.70" font-size="8.3" text-anchor="end" fill="#262626">5</text>
<line x1="382.80" y1="33.20" x2="385.80" y2="33.20" stroke="#1a1a1a" stroke-width="0.9"/>
<text x="379.80" y="35.50" font-size="8.3" text-anchor="end" fill="#262626">6</text>
<line x1="382.70" y1="160.40" x2="512.90" y2="160.40" stroke="#1a1a1a" stroke-width="1"/>
<line x1="397.20" y1="160.40" x2="397.20" y2="163.40" stroke="#1a1a1a" stroke-width="0.9"/>
<text x="397.20" y="174.20" font-size="8.3" text-anchor="middle" fill="#262626">0</text>
<line x1="414.48" y1="160.40" x2="414.48" y2="163.40" stroke="#1a1a1a" stroke-width="0.9"/>
<text x="414.48" y="174.20" font-size="8.3" text-anchor="middle" fill="#262626">1</text>
<line x1="431.76" y1="160.40" x2="431.76" y2="163.40" stroke="#1a1a1a" stroke-width="0.9"/>
<text x="431.76" y="174.20" font-size="8.3" text-anchor="middle" fill="#262626">2</text>
<line x1="449.04" y1="160.40" x2="449.04" y2="163.40" stroke="#1a1a1a" stroke-width="0.9"/>
<text x="449.04" y="174.20" font-size="8.3" text-anchor="middle" fill="#262626">3</text>
<line x1="466.32" y1="160.40" x2="466.32" y2="163.40" stroke="#1a1a1a" stroke-width="0.9"/>
<text x="466.32" y="174.20" font-size="8.3" text-anchor="middle" fill="#262626">4</text>
<line x1="483.60" y1="160.40" x2="483.60" y2="163.40" stroke="#1a1a1a" stroke-width="0.9"/>
<text x="483.60" y="174.20" font-size="8.3" text-anchor="middle" fill="#262626">5</text>
<line x1="500.88" y1="160.40" x2="500.88" y2="163.40" stroke="#1a1a1a" stroke-width="0.9"/>
<text x="500.88" y="174.20" font-size="8.3" text-anchor="middle" fill="#262626">6</text>
<text x="449.04" y="188.10" font-size="10" text-anchor="middle" fill="#262626" textLength="80.5" lengthAdjust="spacingAndGlyphs">Days after phlebotomy</text>
<text x="369.60" y="94.90" font-size="10.5" text-anchor="middle" fill="#262626" textLength="78.4" lengthAdjust="spacingAndGlyphs" transform="rotate(-90 369.60 94.90)">Concentration (ng/ml)</text>
<text x="8.50" y="232.30" font-size="11.8" text-anchor="start" fill="#111" font-weight="bold" stroke="#111" stroke-width="0.35">D</text>
<text x="101.35" y="239.70" font-size="10" text-anchor="middle" fill="#262626" font-style="italic" textLength="54.3" lengthAdjust="spacingAndGlyphs">Hamp (liver)</text>
<line x1="44.15" y1="270.30" x2="44.15" y2="275.10" stroke="#333" stroke-width="0.6"/>
<line x1="42.65" y1="270.30" x2="45.65" y2="270.30" stroke="#333" stroke-width="0.6"/>
<rect x="41.20" y="275.10" width="5.90" height="100.40" fill="#1b4a8c"/>
<rect x="41.50" y="275.40" width="5.30" height="100.10" fill="none" stroke="#0f3a72" stroke-width="0.6"/>
<circle cx="43.90" cy="254.70" r="1.3" fill="#fff" stroke="#4a4a4a" stroke-width="0.75"/>
<circle cx="43.90" cy="262.20" r="1.3" fill="#fff" stroke="#4a4a4a" stroke-width="0.75"/>
<circle cx="43.90" cy="278.80" r="1.05" fill="#fff"/>
<circle cx="42.20" cy="283.90" r="1.05" fill="#fff"/>
<circle cx="45.60" cy="283.90" r="1.05" fill="#fff"/>
<circle cx="43.90" cy="286.40" r="1.05" fill="#fff"/>
<line x1="51.00" y1="276.00" x2="51.00" y2="279.20" stroke="#333" stroke-width="0.6"/>
<line x1="49.50" y1="276.00" x2="52.50" y2="276.00" stroke="#333" stroke-width="0.6"/>
<rect x="48.05" y="279.20" width="5.90" height="96.30" fill="#c70a28"/>
<rect x="48.35" y="279.50" width="5.30" height="96.00" fill="none" stroke="#a0061e" stroke-width="0.6"/>
<circle cx="49.00" cy="268.60" r="1.3" fill="#fff" stroke="#4a4a4a" stroke-width="0.75"/>
<circle cx="53.30" cy="271.20" r="1.3" fill="#fff" stroke="#4a4a4a" stroke-width="0.75"/>
<circle cx="51.60" cy="273.70" r="1.3" fill="#fff" stroke="#4a4a4a" stroke-width="0.75"/>
<circle cx="49.90" cy="281.40" r="1.05" fill="#fff"/>
<circle cx="53.00" cy="283.00" r="1.05" fill="#fff"/>
<circle cx="50.70" cy="289.00" r="1.05" fill="#fff"/>
<line x1="61.97" y1="303.40" x2="61.97" y2="308.00" stroke="#333" stroke-width="0.6"/>
<line x1="60.47" y1="303.40" x2="63.47" y2="303.40" stroke="#333" stroke-width="0.6"/>
<rect x="59.02" y="308.00" width="5.90" height="67.50" fill="#1b4a8c"/>
<rect x="59.32" y="308.30" width="5.30" height="67.20" fill="none" stroke="#0f3a72" stroke-width="0.6"/>
<circle cx="61.70" cy="294.40" r="1.3" fill="#fff" stroke="#4a4a4a" stroke-width="0.75"/>
<circle cx="61.70" cy="303.40" r="1.3" fill="#fff" stroke="#4a4a4a" stroke-width="0.75"/>
<circle cx="61.70" cy="310.20" r="1.05" fill="#fff"/>
<circle cx="60.30" cy="314.40" r="1.05" fill="#fff"/>
<circle cx="63.10" cy="314.40" r="1.05" fill="#fff"/>
<rect x="61.57" y="287.85" width="2.0" height="1.5" fill="#3e5468"/>
<line x1="68.82" y1="281.40" x2="68.82" y2="285.60" stroke="#333" stroke-width="0.6"/>
<line x1="67.32" y1="281.40" x2="70.32" y2="281.40" stroke="#333" stroke-width="0.6"/>
<rect x="65.87" y="285.60" width="5.90" height="89.90" fill="#c70a28"/>
<rect x="66.17" y="285.90" width="5.30" height="89.60" fill="none" stroke="#a0061e" stroke-width="0.6"/>
<circle cx="67.20" cy="276.80" r="1.3" fill="#fff" stroke="#4a4a4a" stroke-width="0.75"/>
<circle cx="71.00" cy="278.80" r="1.3" fill="#fff" stroke="#4a4a4a" stroke-width="0.75"/>
<circle cx="70.20" cy="286.40" r="1.05" fill="#fff"/>
<circle cx="69.40" cy="299.20" r="1.05" fill="#fff"/>
<line x1="79.79" y1="310.70" x2="79.79" y2="318.30" stroke="#333" stroke-width="0.6"/>
<line x1="78.29" y1="310.70" x2="81.29" y2="310.70" stroke="#333" stroke-width="0.6"/>
<rect x="76.84" y="318.30" width="5.90" height="57.20" fill="#1b4a8c"/>
<rect x="77.14" y="318.60" width="5.30" height="56.90" fill="none" stroke="#0f3a72" stroke-width="0.6"/>
<circle cx="79.60" cy="296.30" r="1.3" fill="#fff" stroke="#4a4a4a" stroke-width="0.75"/>
<circle cx="79.60" cy="308.60" r="1.3" fill="#fff" stroke="#4a4a4a" stroke-width="0.75"/>
<circle cx="79.60" cy="321.70" r="1.05" fill="#fff"/>
<circle cx="77.90" cy="332.70" r="1.05" fill="#fff"/>
<circle cx="81.00" cy="331.00" r="1.05" fill="#fff"/>
<rect x="79.39" y="281.55" width="2.0" height="1.5" fill="#3e5468"/>
<rect x="79.39" y="284.60" width="2.0" height="1.5" fill="#3e5468"/>
<rect x="79.39" y="287.65" width="2.0" height="1.5" fill="#3e5468"/>
<rect x="79.39" y="290.70" width="2.0" height="1.5" fill="#3e5468"/>
<line x1="86.64" y1="310.00" x2="86.64" y2="315.80" stroke="#333" stroke-width="0.6"/>
<line x1="85.14" y1="310.00" x2="88.14" y2="310.00" stroke="#333" stroke-width="0.6"/>
<rect x="83.69" y="315.80" width="5.90" height="59.70" fill="#c70a28"/>
<rect x="83.99" y="316.10" width="5.30" height="59.40" fill="none" stroke="#a0061e" stroke-width="0.6"/>
<circle cx="84.70" cy="307.00" r="1.3" fill="#fff" stroke="#4a4a4a" stroke-width="0.75"/>
<circle cx="88.90" cy="308.10" r="1.3" fill="#fff" stroke="#4a4a4a" stroke-width="0.75"/>
<circle cx="86.80" cy="310.00" r="1.3" fill="#fff" stroke="#4a4a4a" stroke-width="0.75"/>
<circle cx="86.80" cy="338.60" r="1.05" fill="#fff"/>
<rect x="86.24" y="289.95" width="2.0" height="1.5" fill="#9c3a4c"/>
<rect x="86.24" y="293.00" width="2.0" height="1.5" fill="#9c3a4c"/>
<rect x="86.24" y="296.05" width="2.0" height="1.5" fill="#9c3a4c"/>
<rect x="86.24" y="299.10" width="2.0" height="1.5" fill="#9c3a4c"/>
<line x1="97.61" y1="310.70" x2="97.61" y2="315.80" stroke="#333" stroke-width="0.6"/>
<line x1="96.11" y1="310.70" x2="99.11" y2="310.70" stroke="#333" stroke-width="0.6"/>
<rect x="94.66" y="315.80" width="5.90" height="59.70" fill="#1b4a8c"/>
<rect x="94.96" y="316.10" width="5.30" height="59.40" fill="none" stroke="#0f3a72" stroke-width="0.6"/>
<circle cx="95.40" cy="303.90" r="1.3" fill="#fff" stroke="#4a4a4a" stroke-width="0.75"/>
<circle cx="99.10" cy="305.30" r="1.3" fill="#fff" stroke="#4a4a4a" stroke-width="0.75"/>
<circle cx="97.60" cy="318.00" r="1.05" fill="#fff"/>
<circle cx="95.70" cy="326.00" r="1.05" fill="#fff"/>
<circle cx="99.20" cy="326.00" r="1.05" fill="#fff"/>
<rect x="97.21" y="289.15" width="2.0" height="1.5" fill="#3e5468"/>
<rect x="97.21" y="292.20" width="2.0" height="1.5" fill="#3e5468"/>
<rect x="97.21" y="295.25" width="2.0" height="1.5" fill="#3e5468"/>
<rect x="97.21" y="298.30" width="2.0" height="1.5" fill="#3e5468"/>
<line x1="104.46" y1="308.00" x2="104.46" y2="314.90" stroke="#333" stroke-width="0.6"/>
<line x1="102.96" y1="308.00" x2="105.96" y2="308.00" stroke="#333" stroke-width="0.6"/>
<rect x="101.51" y="314.90" width="5.90" height="60.60" fill="#c70a28"/>
<rect x="101.81" y="315.20" width="5.30" height="60.30" fill="none" stroke="#a0061e" stroke-width="0.6"/>
<circle cx="104.70" cy="298.50" r="1.3" fill="#fff" stroke="#4a4a4a" stroke-width="0.75"/>
<circle cx="104.70" cy="307.00" r="1.3" fill="#fff" stroke="#4a4a4a" stroke-width="0.75"/>
<circle cx="104.70" cy="320.00" r="1.05" fill="#fff"/>
<circle cx="104.70" cy="332.70" r="1.05" fill="#fff"/>
<rect x="104.06" y="281.85" width="2.0" height="1.5" fill="#9c3a4c"/>
<rect x="104.06" y="284.90" width="2.0" height="1.5" fill="#9c3a4c"/>
<rect x="104.06" y="287.95" width="2.0" height="1.5" fill="#9c3a4c"/>
<rect x="104.06" y="291.00" width="2.0" height="1.5" fill="#9c3a4c"/>
<line x1="115.43" y1="305.30" x2="115.43" y2="316.10" stroke="#333" stroke-width="0.6"/>
<line x1="113.93" y1="305.30" x2="116.93" y2="305.30" stroke="#333" stroke-width="0.6"/>
<rect x="112.48" y="316.10" width="5.90" height="59.40" fill="#1b4a8c"/>
<rect x="112.78" y="316.40" width="5.30" height="59.10" fill="none" stroke="#0f3a72" stroke-width="0.6"/>
<circle cx="115.20" cy="291.70" r="1.3" fill="#fff" stroke="#4a4a4a" stroke-width="0.75"/>
<circle cx="115.20" cy="297.50" r="1.3" fill="#fff" stroke="#4a4a4a" stroke-width="0.75"/>
<circle cx="115.20" cy="326.00" r="1.05" fill="#fff"/>
<circle cx="115.20" cy="351.70" r="1.05" fill="#fff"/>
<rect x="115.03" y="274.75" width="2.0" height="1.5" fill="#3e5468"/>
<rect x="115.03" y="277.80" width="2.0" height="1.5" fill="#3e5468"/>
<rect x="115.03" y="280.85" width="2.0" height="1.5" fill="#3e5468"/>
<rect x="115.03" y="283.90" width="2.0" height="1.5" fill="#3e5468"/>
<line x1="122.28" y1="298.50" x2="122.28" y2="303.60" stroke="#333" stroke-width="0.6"/>
<line x1="120.78" y1="298.50" x2="123.78" y2="298.50" stroke="#333" stroke-width="0.6"/>
<rect x="119.33" y="303.60" width="5.90" height="71.90" fill="#c70a28"/>
<rect x="119.63" y="303.90" width="5.30" height="71.60" fill="none" stroke="#a0061e" stroke-width="0.6"/>
<circle cx="122.50" cy="289.00" r="1.3" fill="#fff" stroke="#4a4a4a" stroke-width="0.75"/>
<circle cx="122.50" cy="294.00" r="1.3" fill="#fff" stroke="#4a4a4a" stroke-width="0.75"/>
<circle cx="122.50" cy="298.00" r="1.3" fill="#fff" stroke="#4a4a4a" stroke-width="0.75"/>
<circle cx="122.50" cy="314.90" r="1.05" fill="#fff"/>
<circle cx="122.50" cy="318.80" r="1.05" fill="#fff"/>
<rect x="121.88" y="272.15" width="2.0" height="1.5" fill="#9c3a4c"/>
<rect x="121.88" y="275.20" width="2.0" height="1.5" fill="#9c3a4c"/>
<rect x="121.88" y="278.25" width="2.0" height="1.5" fill="#9c3a4c"/>
<rect x="121.88" y="281.30" width="2.0" height="1.5" fill="#9c3a4c"/>
<line x1="133.25" y1="303.20" x2="133.25" y2="308.30" stroke="#333" stroke-width="0.6"/>
<line x1="131.75" y1="303.20" x2="134.75" y2="303.20" stroke="#333" stroke-width="0.6"/>
<rect x="130.30" y="308.30" width="5.90" height="67.20" fill="#1b4a8c"/>
<rect x="130.60" y="308.60" width="5.30" height="66.90" fill="none" stroke="#0f3a72" stroke-width="0.6"/>
<circle cx="132.90" cy="290.20" r="1.3" fill="#fff" stroke="#4a4a4a" stroke-width="0.75"/>
<circle cx="132.90" cy="303.20" r="1.3" fill="#fff" stroke="#4a4a4a" stroke-width="0.75"/>
<circle cx="132.90" cy="311.70" r="1.05" fill="#fff"/>
<circle cx="132.90" cy="316.80" r="1.05" fill="#fff"/>
<circle cx="132.90" cy="321.00" r="1.05" fill="#fff"/>
<rect x="132.85" y="278.65" width="2.0" height="1.5" fill="#3e5468"/>
<rect x="132.85" y="281.70" width="2.0" height="1.5" fill="#3e5468"/>
<line x1="140.10" y1="288.80" x2="140.10" y2="293.90" stroke="#333" stroke-width="0.6"/>
<line x1="138.60" y1="288.80" x2="141.60" y2="288.80" stroke="#333" stroke-width="0.6"/>
<rect x="137.15" y="293.90" width="5.90" height="81.60" fill="#c70a28"/>
<rect x="137.45" y="294.20" width="5.30" height="81.30" fill="none" stroke="#a0061e" stroke-width="0.6"/>
<circle cx="138.00" cy="288.00" r="1.3" fill="#fff" stroke="#4a4a4a" stroke-width="0.75"/>
<circle cx="142.20" cy="289.70" r="1.3" fill="#fff" stroke="#4a4a4a" stroke-width="0.75"/>
<circle cx="138.80" cy="296.40" r="1.05" fill="#fff"/>
<circle cx="141.40" cy="299.80" r="1.05" fill="#fff"/>
<rect x="139.70" y="278.65" width="2.0" height="1.5" fill="#9c3a4c"/>
<rect x="139.70" y="281.70" width="2.0" height="1.5" fill="#9c3a4c"/>
<line x1="151.07" y1="285.10" x2="151.07" y2="290.50" stroke="#333" stroke-width="0.6"/>
<line x1="149.57" y1="285.10" x2="152.57" y2="285.10" stroke="#333" stroke-width="0.6"/>
<rect x="148.12" y="290.50" width="5.90" height="85.00" fill="#1b4a8c"/>
<rect x="148.42" y="290.80" width="5.30" height="84.70" fill="none" stroke="#0f3a72" stroke-width="0.6"/>
<circle cx="150.70" cy="274.40" r="1.3" fill="#fff" stroke="#4a4a4a" stroke-width="0.75"/>
<circle cx="150.70" cy="282.00" r="1.3" fill="#fff" stroke="#4a4a4a" stroke-width="0.75"/>
<circle cx="150.70" cy="293.90" r="1.05" fill="#fff"/>
<circle cx="150.70" cy="298.10" r="1.05" fill="#fff"/>
<circle cx="150.70" cy="303.20" r="1.05" fill="#fff"/>
<line x1="157.92" y1="286.30" x2="157.92" y2="291.40" stroke="#333" stroke-width="0.6"/>
<line x1="156.42" y1="286.30" x2="159.42" y2="286.30" stroke="#333" stroke-width="0.6"/>
<rect x="154.97" y="291.40" width="5.90" height="84.10" fill="#c70a28"/>
<rect x="155.27" y="291.70" width="5.30" height="83.80" fill="none" stroke="#a0061e" stroke-width="0.6"/>
<circle cx="158.30" cy="275.30" r="1.3" fill="#fff" stroke="#4a4a4a" stroke-width="0.75"/>
<circle cx="158.30" cy="286.80" r="1.3" fill="#fff" stroke="#4a4a4a" stroke-width="0.75"/>
<circle cx="157.50" cy="295.60" r="1.05" fill="#fff"/>
<circle cx="158.30" cy="300.70" r="1.05" fill="#fff"/>
<line x1="37.60" y1="253.20" x2="37.60" y2="376.00" stroke="#1a1a1a" stroke-width="1"/>
<line x1="34.60" y1="375.50" x2="37.60" y2="375.50" stroke="#1a1a1a" stroke-width="0.9"/>
<text x="31.60" y="377.80" font-size="8.3" text-anchor="end" fill="#262626">0</text>
<line x1="34.60" y1="358.50" x2="37.60" y2="358.50" stroke="#1a1a1a" stroke-width="0.9"/>
<text x="31.60" y="360.80" font-size="8.3" text-anchor="end" fill="#262626">1</text>
<line x1="34.60" y1="341.50" x2="37.60" y2="341.50" stroke="#1a1a1a" stroke-width="0.9"/>
<text x="31.60" y="343.80" font-size="8.3" text-anchor="end" fill="#262626">2</text>
<line x1="34.60" y1="324.50" x2="37.60" y2="324.50" stroke="#1a1a1a" stroke-width="0.9"/>
<text x="31.60" y="326.80" font-size="8.3" text-anchor="end" fill="#262626">3</text>
<line x1="34.60" y1="307.50" x2="37.60" y2="307.50" stroke="#1a1a1a" stroke-width="0.9"/>
<text x="31.60" y="309.80" font-size="8.3" text-anchor="end" fill="#262626">4</text>
<line x1="34.60" y1="290.50" x2="37.60" y2="290.50" stroke="#1a1a1a" stroke-width="0.9"/>
<text x="31.60" y="292.80" font-size="8.3" text-anchor="end" fill="#262626">5</text>
<line x1="34.60" y1="273.50" x2="37.60" y2="273.50" stroke="#1a1a1a" stroke-width="0.9"/>
<text x="31.60" y="275.80" font-size="8.3" text-anchor="end" fill="#262626">6</text>
<line x1="34.60" y1="256.50" x2="37.60" y2="256.50" stroke="#1a1a1a" stroke-width="0.9"/>
<text x="31.60" y="258.80" font-size="8.3" text-anchor="end" fill="#262626">7</text>
<line x1="34.50" y1="375.50" x2="164.30" y2="375.50" stroke="#1a1a1a" stroke-width="1"/>
<line x1="47.60" y1="375.50" x2="47.60" y2="378.50" stroke="#1a1a1a" stroke-width="0.9"/>
<text x="47.60" y="389.30" font-size="8.3" text-anchor="middle" fill="#262626">0</text>
<line x1="65.42" y1="375.50" x2="65.42" y2="378.50" stroke="#1a1a1a" stroke-width="0.9"/>
<text x="65.42" y="389.30" font-size="8.3" text-anchor="middle" fill="#262626">1</text>
<line x1="83.24" y1="375.50" x2="83.24" y2="378.50" stroke="#1a1a1a" stroke-width="0.9"/>
<text x="83.24" y="389.30" font-size="8.3" text-anchor="middle" fill="#262626">2</text>
<line x1="101.06" y1="375.50" x2="101.06" y2="378.50" stroke="#1a1a1a" stroke-width="0.9"/>
<text x="101.06" y="389.30" font-size="8.3" text-anchor="middle" fill="#262626">3</text>
<line x1="118.88" y1="375.50" x2="118.88" y2="378.50" stroke="#1a1a1a" stroke-width="0.9"/>
<text x="118.88" y="389.30" font-size="8.3" text-anchor="middle" fill="#262626">4</text>
<line x1="136.70" y1="375.50" x2="136.70" y2="378.50" stroke="#1a1a1a" stroke-width="0.9"/>
<text x="136.70" y="389.30" font-size="8.3" text-anchor="middle" fill="#262626">5</text>
<line x1="154.52" y1="375.50" x2="154.52" y2="378.50" stroke="#1a1a1a" stroke-width="0.9"/>
<text x="154.52" y="389.30" font-size="8.3" text-anchor="middle" fill="#262626">6</text>
<text x="101.06" y="403.20" font-size="10" text-anchor="middle" fill="#262626" textLength="80.5" lengthAdjust="spacingAndGlyphs">Days after phlebotomy</text>
<text x="20.40" y="310.20" font-size="9" text-anchor="middle" fill="#262626" textLength="16.7" lengthAdjust="spacingAndGlyphs" transform="rotate(-90 20.40 310.20)">-ΔCt</text>
<text x="182.60" y="232.30" font-size="11.8" text-anchor="start" fill="#111" font-weight="bold" stroke="#111" stroke-width="0.35">E</text>
<text x="275.40" y="239.70" font-size="10" text-anchor="middle" fill="#262626" font-style="italic" textLength="41.6" lengthAdjust="spacingAndGlyphs">Id1 (liver)</text>
<line x1="217.95" y1="270.00" x2="217.95" y2="275.10" stroke="#333" stroke-width="0.6"/>
<line x1="216.45" y1="270.00" x2="219.45" y2="270.00" stroke="#333" stroke-width="0.6"/>
<rect x="215.00" y="275.10" width="5.90" height="100.60" fill="#1b4a8c"/>
<rect x="215.30" y="275.40" width="5.30" height="100.30" fill="none" stroke="#0f3a72" stroke-width="0.6"/>
<circle cx="217.90" cy="255.10" r="1.3" fill="#fff" stroke="#4a4a4a" stroke-width="0.75"/>
<circle cx="217.90" cy="260.50" r="1.3" fill="#fff" stroke="#4a4a4a" stroke-width="0.75"/>
<circle cx="216.20" cy="272.00" r="1.3" fill="#fff" stroke="#4a4a4a" stroke-width="0.75"/>
<circle cx="219.60" cy="272.00" r="1.3" fill="#fff" stroke="#4a4a4a" stroke-width="0.75"/>
<circle cx="217.90" cy="278.80" r="1.05" fill="#fff"/>
<circle cx="217.90" cy="289.00" r="1.05" fill="#fff"/>
<circle cx="217.90" cy="293.70" r="1.05" fill="#fff"/>
<line x1="224.80" y1="280.50" x2="224.80" y2="284.70" stroke="#333" stroke-width="0.6"/>
<line x1="223.30" y1="280.50" x2="226.30" y2="280.50" stroke="#333" stroke-width="0.6"/>
<rect x="221.85" y="284.70" width="5.90" height="91.00" fill="#c70a28"/>
<rect x="222.15" y="285.00" width="5.30" height="90.70" fill="none" stroke="#a0061e" stroke-width="0.6"/>
<circle cx="225.20" cy="263.20" r="1.3" fill="#fff" stroke="#4a4a4a" stroke-width="0.75"/>
<circle cx="225.20" cy="267.80" r="1.3" fill="#fff" stroke="#4a4a4a" stroke-width="0.75"/>
<circle cx="226.40" cy="286.40" r="1.05" fill="#fff"/>
<circle cx="225.20" cy="300.00" r="1.05" fill="#fff"/>
<circle cx="225.20" cy="305.60" r="1.05" fill="#fff"/>
<line x1="235.75" y1="266.60" x2="235.75" y2="275.40" stroke="#333" stroke-width="0.6"/>
<line x1="234.25" y1="266.60" x2="237.25" y2="266.60" stroke="#333" stroke-width="0.6"/>
<rect x="232.80" y="275.40" width="5.90" height="100.30" fill="#1b4a8c"/>
<rect x="233.10" y="275.70" width="5.30" height="100.00" fill="none" stroke="#0f3a72" stroke-width="0.6"/>
<circle cx="233.70" cy="255.40" r="1.3" fill="#fff" stroke="#4a4a4a" stroke-width="0.75"/>
<circle cx="237.80" cy="258.10" r="1.3" fill="#fff" stroke="#4a4a4a" stroke-width="0.75"/>
<circle cx="235.70" cy="284.70" r="1.05" fill="#fff"/>
<circle cx="235.70" cy="302.90" r="1.05" fill="#fff"/>
<line x1="242.60" y1="278.50" x2="242.60" y2="284.70" stroke="#333" stroke-width="0.6"/>
<line x1="241.10" y1="278.50" x2="244.10" y2="278.50" stroke="#333" stroke-width="0.6"/>
<rect x="239.65" y="284.70" width="5.90" height="91.00" fill="#c70a28"/>
<rect x="239.95" y="285.00" width="5.30" height="90.70" fill="none" stroke="#a0061e" stroke-width="0.6"/>
<circle cx="242.80" cy="261.90" r="1.3" fill="#fff" stroke="#4a4a4a" stroke-width="0.75"/>
<circle cx="240.80" cy="285.60" r="1.05" fill="#fff"/>
<circle cx="242.80" cy="289.80" r="1.05" fill="#fff"/>
<circle cx="242.80" cy="297.80" r="1.05" fill="#fff"/>
<line x1="253.55" y1="279.70" x2="253.55" y2="282.20" stroke="#333" stroke-width="0.6"/>
<line x1="252.05" y1="279.70" x2="255.05" y2="279.70" stroke="#333" stroke-width="0.6"/>
<rect x="250.60" y="282.20" width="5.90" height="93.50" fill="#1b4a8c"/>
<rect x="250.90" y="282.50" width="5.30" height="93.20" fill="none" stroke="#0f3a72" stroke-width="0.6"/>
<circle cx="253.50" cy="272.90" r="1.3" fill="#fff" stroke="#4a4a4a" stroke-width="0.75"/>
<circle cx="253.50" cy="275.40" r="1.3" fill="#fff" stroke="#4a4a4a" stroke-width="0.75"/>
<circle cx="251.00" cy="289.00" r="1.05" fill="#fff"/>
<circle cx="255.20" cy="288.10" r="1.05" fill="#fff"/>
<circle cx="253.50" cy="283.90" r="1.05" fill="#fff"/>
<line x1="260.40" y1="270.00" x2="260.40" y2="272.00" stroke="#333" stroke-width="0.6"/>
<line x1="258.90" y1="270.00" x2="261.90" y2="270.00" stroke="#333" stroke-width="0.6"/>
<rect x="257.45" y="272.00" width="5.90" height="103.70" fill="#c70a28"/>
<rect x="257.75" y="272.30" width="5.30" height="103.40" fill="none" stroke="#a0061e" stroke-width="0.6"/>
<circle cx="260.80" cy="259.80" r="1.3" fill="#fff" stroke="#4a4a4a" stroke-width="0.75"/>
<circle cx="260.80" cy="266.60" r="1.3" fill="#fff" stroke="#4a4a4a" stroke-width="0.75"/>
<circle cx="258.60" cy="275.40" r="1.05" fill="#fff"/>
<circle cx="262.00" cy="277.10" r="1.05" fill="#fff"/>
<circle cx="260.00" cy="279.70" r="1.05" fill="#fff"/>
<line x1="271.35" y1="287.50" x2="271.35" y2="293.90" stroke="#333" stroke-width="0.6"/>
<line x1="269.85" y1="287.50" x2="272.85" y2="287.50" stroke="#333" stroke-width="0.6"/>
<rect x="268.40" y="293.90" width="5.90" height="81.80" fill="#1b4a8c"/>
<rect x="268.70" y="294.20" width="5.30" height="81.50" fill="none" stroke="#0f3a72" stroke-width="0.6"/>
<circle cx="271.30" cy="271.00" r="1.3" fill="#fff" stroke="#4a4a4a" stroke-width="0.75"/>
<circle cx="271.30" cy="296.50" r="1.05" fill="#fff"/>
<circle cx="269.80" cy="301.70" r="1.05" fill="#fff"/>
<circle cx="272.80" cy="299.50" r="1.05" fill="#fff"/>
<line x1="278.20" y1="287.00" x2="278.20" y2="290.70" stroke="#333" stroke-width="0.6"/>
<line x1="276.70" y1="287.00" x2="279.70" y2="287.00" stroke="#333" stroke-width="0.6"/>
<rect x="275.25" y="290.70" width="5.90" height="85.00" fill="#c70a28"/>
<rect x="275.55" y="291.00" width="5.30" height="84.70" fill="none" stroke="#a0061e" stroke-width="0.6"/>
<circle cx="276.40" cy="283.10" r="1.3" fill="#fff" stroke="#4a4a4a" stroke-width="0.75"/>
<circle cx="280.40" cy="281.20" r="1.3" fill="#fff" stroke="#4a4a4a" stroke-width="0.75"/>
<circle cx="276.40" cy="295.10" r="1.05" fill="#fff"/>
<circle cx="280.00" cy="295.10" r="1.05" fill="#fff"/>
<circle cx="276.40" cy="297.70" r="1.05" fill="#fff"/>
<line x1="289.15" y1="287.00" x2="289.15" y2="290.00" stroke="#333" stroke-width="0.6"/>
<line x1="287.65" y1="287.00" x2="290.65" y2="287.00" stroke="#333" stroke-width="0.6"/>
<rect x="286.20" y="290.00" width="5.90" height="85.70" fill="#1b4a8c"/>
<rect x="286.50" y="290.30" width="5.30" height="85.40" fill="none" stroke="#0f3a72" stroke-width="0.6"/>
<circle cx="288.90" cy="278.70" r="1.3" fill="#fff" stroke="#4a4a4a" stroke-width="0.75"/>
<circle cx="288.90" cy="284.10" r="1.3" fill="#fff" stroke="#4a4a4a" stroke-width="0.75"/>
<circle cx="291.00" cy="291.40" r="1.05" fill="#fff"/>
<circle cx="288.90" cy="302.10" r="1.05" fill="#fff"/>
<line x1="296.00" y1="289.20" x2="296.00" y2="291.90" stroke="#333" stroke-width="0.6"/>
<line x1="294.50" y1="289.20" x2="297.50" y2="289.20" stroke="#333" stroke-width="0.6"/>
<rect x="293.05" y="291.90" width="5.90" height="83.80" fill="#c70a28"/>
<rect x="293.35" y="292.20" width="5.30" height="83.50" fill="none" stroke="#a0061e" stroke-width="0.6"/>
<circle cx="296.50" cy="279.30" r="1.3" fill="#fff" stroke="#4a4a4a" stroke-width="0.75"/>
<circle cx="294.00" cy="293.60" r="1.05" fill="#fff"/>
<circle cx="298.40" cy="292.90" r="1.05" fill="#fff"/>
<circle cx="296.50" cy="298.70" r="1.05" fill="#fff"/>
<line x1="306.95" y1="281.20" x2="306.95" y2="282.70" stroke="#333" stroke-width="0.6"/>
<line x1="305.45" y1="281.20" x2="308.45" y2="281.20" stroke="#333" stroke-width="0.6"/>
<rect x="304.00" y="282.70" width="5.90" height="93.00" fill="#1b4a8c"/>
<rect x="304.30" y="283.00" width="5.30" height="92.70" fill="none" stroke="#0f3a72" stroke-width="0.6"/>
<circle cx="306.70" cy="273.90" r="1.3" fill="#fff" stroke="#4a4a4a" stroke-width="0.75"/>
<circle cx="306.70" cy="278.70" r="1.3" fill="#fff" stroke="#4a4a4a" stroke-width="0.75"/>
<circle cx="305.00" cy="284.10" r="1.05" fill="#fff"/>
<circle cx="307.90" cy="286.30" r="1.05" fill="#fff"/>
<line x1="313.80" y1="284.90" x2="313.80" y2="290.00" stroke="#333" stroke-width="0.6"/>
<line x1="312.30" y1="284.90" x2="315.30" y2="284.90" stroke="#333" stroke-width="0.6"/>
<rect x="310.85" y="290.00" width="5.90" height="85.70" fill="#c70a28"/>
<rect x="311.15" y="290.30" width="5.30" height="85.40" fill="none" stroke="#a0061e" stroke-width="0.6"/>
<circle cx="314.00" cy="273.20" r="1.3" fill="#fff" stroke="#4a4a4a" stroke-width="0.75"/>
<circle cx="314.00" cy="277.50" r="1.3" fill="#fff" stroke="#4a4a4a" stroke-width="0.75"/>
<circle cx="312.20" cy="294.40" r="1.05" fill="#fff"/>
<circle cx="315.90" cy="293.60" r="1.05" fill="#fff"/>
<circle cx="314.00" cy="298.30" r="1.05" fill="#fff"/>
<circle cx="314.00" cy="303.10" r="1.05" fill="#fff"/>
<line x1="324.75" y1="277.30" x2="324.75" y2="279.00" stroke="#333" stroke-width="0.6"/>
<line x1="323.25" y1="277.30" x2="326.25" y2="277.30" stroke="#333" stroke-width="0.6"/>
<rect x="321.80" y="279.00" width="5.90" height="96.70" fill="#1b4a8c"/>
<rect x="322.10" y="279.30" width="5.30" height="96.40" fill="none" stroke="#0f3a72" stroke-width="0.6"/>
<circle cx="324.20" cy="272.40" r="1.3" fill="#fff" stroke="#4a4a4a" stroke-width="0.75"/>
<circle cx="322.50" cy="275.40" r="1.3" fill="#fff" stroke="#4a4a4a" stroke-width="0.75"/>
<circle cx="326.90" cy="275.40" r="1.3" fill="#fff" stroke="#4a4a4a" stroke-width="0.75"/>
<circle cx="324.20" cy="281.90" r="1.05" fill="#fff"/>
<circle cx="324.20" cy="288.90" r="1.05" fill="#fff"/>
<line x1="331.60" y1="284.10" x2="331.60" y2="287.80" stroke="#333" stroke-width="0.6"/>
<line x1="330.10" y1="284.10" x2="333.10" y2="284.10" stroke="#333" stroke-width="0.6"/>
<rect x="328.65" y="287.80" width="5.90" height="87.90" fill="#c70a28"/>
<rect x="328.95" y="288.10" width="5.30" height="87.60" fill="none" stroke="#a0061e" stroke-width="0.6"/>
<circle cx="331.50" cy="274.60" r="1.3" fill="#fff" stroke="#4a4a4a" stroke-width="0.75"/>
<circle cx="334.20" cy="286.00" r="1.3" fill="#fff" stroke="#4a4a4a" stroke-width="0.75"/>
<circle cx="329.80" cy="296.50" r="1.05" fill="#fff"/>
<circle cx="334.20" cy="296.50" r="1.05" fill="#fff"/>
<line x1="211.30" y1="253.50" x2="211.30" y2="376.20" stroke="#1a1a1a" stroke-width="1"/>
<line x1="208.30" y1="256.70" x2="211.30" y2="256.70" stroke="#1a1a1a" stroke-width="0.9"/>
<text x="205.30" y="259.00" font-size="8.3" text-anchor="end" fill="#262626">−2</text>
<line x1="208.30" y1="273.70" x2="211.30" y2="273.70" stroke="#1a1a1a" stroke-width="0.9"/>
<text x="205.30" y="276.00" font-size="8.3" text-anchor="end" fill="#262626">−3</text>
<line x1="208.30" y1="290.70" x2="211.30" y2="290.70" stroke="#1a1a1a" stroke-width="0.9"/>
<text x="205.30" y="293.00" font-size="8.3" text-anchor="end" fill="#262626">−4</text>
<line x1="208.30" y1="307.70" x2="211.30" y2="307.70" stroke="#1a1a1a" stroke-width="0.9"/>
<text x="205.30" y="310.00" font-size="8.3" text-anchor="end" fill="#262626">−5</text>
<line x1="208.30" y1="324.70" x2="211.30" y2="324.70" stroke="#1a1a1a" stroke-width="0.9"/>
<text x="205.30" y="327.00" font-size="8.3" text-anchor="end" fill="#262626">−6</text>
<line x1="208.30" y1="341.70" x2="211.30" y2="341.70" stroke="#1a1a1a" stroke-width="0.9"/>
<text x="205.30" y="344.00" font-size="8.3" text-anchor="end" fill="#262626">−7</text>
<line x1="208.30" y1="358.70" x2="211.30" y2="358.70" stroke="#1a1a1a" stroke-width="0.9"/>
<text x="205.30" y="361.00" font-size="8.3" text-anchor="end" fill="#262626">−8</text>
<line x1="208.30" y1="375.70" x2="211.30" y2="375.70" stroke="#1a1a1a" stroke-width="0.9"/>
<text x="205.30" y="378.00" font-size="8.3" text-anchor="end" fill="#262626">−9</text>
<line x1="208.30" y1="375.70" x2="338.00" y2="375.70" stroke="#1a1a1a" stroke-width="1"/>
<line x1="221.40" y1="375.70" x2="221.40" y2="378.70" stroke="#1a1a1a" stroke-width="0.9"/>
<text x="221.40" y="389.50" font-size="8.3" text-anchor="middle" fill="#262626">0</text>
<line x1="239.20" y1="375.70" x2="239.20" y2="378.70" stroke="#1a1a1a" stroke-width="0.9"/>
<text x="239.20" y="389.50" font-size="8.3" text-anchor="middle" fill="#262626">1</text>
<line x1="257.00" y1="375.70" x2="257.00" y2="378.70" stroke="#1a1a1a" stroke-width="0.9"/>
<text x="257.00" y="389.50" font-size="8.3" text-anchor="middle" fill="#262626">2</text>
<line x1="274.80" y1="375.70" x2="274.80" y2="378.70" stroke="#1a1a1a" stroke-width="0.9"/>
<text x="274.80" y="389.50" font-size="8.3" text-anchor="middle" fill="#262626">3</text>
<line x1="292.60" y1="375.70" x2="292.60" y2="378.70" stroke="#1a1a1a" stroke-width="0.9"/>
<text x="292.60" y="389.50" font-size="8.3" text-anchor="middle" fill="#262626">4</text>
<line x1="310.40" y1="375.70" x2="310.40" y2="378.70" stroke="#1a1a1a" stroke-width="0.9"/>
<text x="310.40" y="389.50" font-size="8.3" text-anchor="middle" fill="#262626">5</text>
<line x1="328.20" y1="375.70" x2="328.20" y2="378.70" stroke="#1a1a1a" stroke-width="0.9"/>
<text x="328.20" y="389.50" font-size="8.3" text-anchor="middle" fill="#262626">6</text>
<text x="274.80" y="403.40" font-size="10" text-anchor="middle" fill="#262626" textLength="80.5" lengthAdjust="spacingAndGlyphs">Days after phlebotomy</text>
<text x="190.10" y="310.50" font-size="9" text-anchor="middle" fill="#262626" textLength="17.4" lengthAdjust="spacingAndGlyphs" transform="rotate(-90 190.10 310.50)">-ΔCt</text>
<text x="357.40" y="232.30" font-size="11.8" text-anchor="start" fill="#111" font-weight="bold" stroke="#111" stroke-width="0.35">F</text>
<text x="449.50" y="239.70" font-size="10" text-anchor="middle" fill="#262626" font-style="italic" textLength="58" lengthAdjust="spacingAndGlyphs">Smad7 (liver)</text>
<line x1="392.35" y1="279.60" x2="392.35" y2="283.00" stroke="#333" stroke-width="0.6"/>
<line x1="390.85" y1="279.60" x2="393.85" y2="279.60" stroke="#333" stroke-width="0.6"/>
<rect x="389.40" y="283.00" width="5.90" height="92.70" fill="#1b4a8c"/>
<rect x="389.70" y="283.30" width="5.30" height="92.40" fill="none" stroke="#0f3a72" stroke-width="0.6"/>
<circle cx="392.50" cy="268.40" r="1.3" fill="#fff" stroke="#4a4a4a" stroke-width="0.75"/>
<circle cx="390.40" cy="277.40" r="1.3" fill="#fff" stroke="#4a4a4a" stroke-width="0.75"/>
<circle cx="394.70" cy="278.20" r="1.3" fill="#fff" stroke="#4a4a4a" stroke-width="0.75"/>
<circle cx="397.60" cy="277.40" r="1.3" fill="#fff" stroke="#4a4a4a" stroke-width="0.75"/>
<circle cx="392.50" cy="289.10" r="1.05" fill="#fff"/>
<circle cx="392.50" cy="300.00" r="1.05" fill="#fff"/>
<line x1="399.20" y1="286.20" x2="399.20" y2="289.10" stroke="#333" stroke-width="0.6"/>
<line x1="397.70" y1="286.20" x2="400.70" y2="286.20" stroke="#333" stroke-width="0.6"/>
<rect x="396.25" y="289.10" width="5.90" height="86.60" fill="#c70a28"/>
<rect x="396.55" y="289.40" width="5.30" height="86.30" fill="none" stroke="#a0061e" stroke-width="0.6"/>
<circle cx="401.70" cy="275.00" r="1.3" fill="#fff" stroke="#4a4a4a" stroke-width="0.75"/>
<circle cx="401.70" cy="282.50" r="1.3" fill="#fff" stroke="#4a4a4a" stroke-width="0.75"/>
<circle cx="398.40" cy="290.50" r="1.05" fill="#fff"/>
<circle cx="401.70" cy="290.50" r="1.05" fill="#fff"/>
<circle cx="399.40" cy="297.10" r="1.05" fill="#fff"/>
<circle cx="399.40" cy="308.70" r="1.05" fill="#fff"/>
<line x1="410.13" y1="284.70" x2="410.13" y2="288.30" stroke="#333" stroke-width="0.6"/>
<line x1="408.63" y1="284.70" x2="411.63" y2="284.70" stroke="#333" stroke-width="0.6"/>
<rect x="407.18" y="288.30" width="5.90" height="87.40" fill="#1b4a8c"/>
<rect x="407.48" y="288.60" width="5.30" height="87.10" fill="none" stroke="#0f3a72" stroke-width="0.6"/>
<circle cx="410.00" cy="278.60" r="1.3" fill="#fff" stroke="#4a4a4a" stroke-width="0.75"/>
<circle cx="410.00" cy="282.50" r="1.3" fill="#fff" stroke="#4a4a4a" stroke-width="0.75"/>
<circle cx="410.00" cy="290.80" r="1.05" fill="#fff"/>
<circle cx="410.00" cy="302.20" r="1.05" fill="#fff"/>
<line x1="416.98" y1="283.30" x2="416.98" y2="283.50" stroke="#333" stroke-width="0.6"/>
<line x1="415.48" y1="283.30" x2="418.48" y2="283.30" stroke="#333" stroke-width="0.6"/>
<rect x="414.03" y="283.50" width="5.90" height="92.20" fill="#c70a28"/>
<rect x="414.33" y="283.80" width="5.30" height="91.90" fill="none" stroke="#a0061e" stroke-width="0.6"/>
<circle cx="417.20" cy="275.70" r="1.3" fill="#fff" stroke="#4a4a4a" stroke-width="0.75"/>
<circle cx="417.20" cy="280.30" r="1.3" fill="#fff" stroke="#4a4a4a" stroke-width="0.75"/>
<circle cx="415.00" cy="284.70" r="1.05" fill="#fff"/>
<circle cx="419.10" cy="286.90" r="1.05" fill="#fff"/>
<circle cx="415.00" cy="288.30" r="1.05" fill="#fff"/>
<line x1="427.91" y1="278.20" x2="427.91" y2="281.50" stroke="#333" stroke-width="0.6"/>
<line x1="426.41" y1="278.20" x2="429.41" y2="278.20" stroke="#333" stroke-width="0.6"/>
<rect x="424.96" y="281.50" width="5.90" height="94.20" fill="#1b4a8c"/>
<rect x="425.26" y="281.80" width="5.30" height="93.90" fill="none" stroke="#0f3a72" stroke-width="0.6"/>
<circle cx="427.90" cy="271.90" r="1.3" fill="#fff" stroke="#4a4a4a" stroke-width="0.75"/>
<circle cx="427.90" cy="275.30" r="1.3" fill="#fff" stroke="#4a4a4a" stroke-width="0.75"/>
<circle cx="427.90" cy="286.90" r="1.05" fill="#fff"/>
<circle cx="427.90" cy="291.70" r="1.05" fill="#fff"/>
<line x1="434.76" y1="278.90" x2="434.76" y2="281.50" stroke="#333" stroke-width="0.6"/>
<line x1="433.26" y1="278.90" x2="436.26" y2="278.90" stroke="#333" stroke-width="0.6"/>
<rect x="431.81" y="281.50" width="5.90" height="94.20" fill="#c70a28"/>
<rect x="432.11" y="281.80" width="5.30" height="93.90" fill="none" stroke="#a0061e" stroke-width="0.6"/>
<circle cx="435.10" cy="272.80" r="1.3" fill="#fff" stroke="#4a4a4a" stroke-width="0.75"/>
<circle cx="433.20" cy="278.60" r="1.3" fill="#fff" stroke="#4a4a4a" stroke-width="0.75"/>
<circle cx="436.80" cy="278.60" r="1.3" fill="#fff" stroke="#4a4a4a" stroke-width="0.75"/>
<circle cx="435.10" cy="283.30" r="1.05" fill="#fff"/>
<circle cx="435.10" cy="293.10" r="1.05" fill="#fff"/>
<line x1="445.69" y1="297.30" x2="445.69" y2="299.20" stroke="#333" stroke-width="0.6"/>
<line x1="444.19" y1="297.30" x2="447.19" y2="297.30" stroke="#333" stroke-width="0.6"/>
<rect x="442.74" y="299.20" width="5.90" height="76.50" fill="#1b4a8c"/>
<rect x="443.04" y="299.50" width="5.30" height="76.20" fill="none" stroke="#0f3a72" stroke-width="0.6"/>
<circle cx="443.60" cy="293.90" r="1.3" fill="#fff" stroke="#4a4a4a" stroke-width="0.75"/>
<circle cx="446.80" cy="296.30" r="1.3" fill="#fff" stroke="#4a4a4a" stroke-width="0.75"/>
<circle cx="445.30" cy="300.90" r="1.05" fill="#fff"/>
<circle cx="445.30" cy="307.10" r="1.05" fill="#fff"/>
<line x1="452.54" y1="280.50" x2="452.54" y2="281.60" stroke="#333" stroke-width="0.6"/>
<line x1="451.04" y1="280.50" x2="454.04" y2="280.50" stroke="#333" stroke-width="0.6"/>
<rect x="449.59" y="281.60" width="5.90" height="94.10" fill="#c70a28"/>
<rect x="449.89" y="281.90" width="5.30" height="93.80" fill="none" stroke="#a0061e" stroke-width="0.6"/>
<circle cx="452.60" cy="276.10" r="1.3" fill="#fff" stroke="#4a4a4a" stroke-width="0.75"/>
<circle cx="451.20" cy="281.90" r="1.05" fill="#fff"/>
<circle cx="454.00" cy="281.90" r="1.05" fill="#fff"/>
<circle cx="451.20" cy="286.30" r="1.05" fill="#fff"/>
<circle cx="454.00" cy="286.30" r="1.05" fill="#fff"/>
<line x1="463.47" y1="296.30" x2="463.47" y2="298.70" stroke="#333" stroke-width="0.6"/>
<line x1="461.97" y1="296.30" x2="464.97" y2="296.30" stroke="#333" stroke-width="0.6"/>
<rect x="460.52" y="298.70" width="5.90" height="77.00" fill="#1b4a8c"/>
<rect x="460.82" y="299.00" width="5.30" height="76.70" fill="none" stroke="#0f3a72" stroke-width="0.6"/>
<circle cx="463.60" cy="288.50" r="1.3" fill="#fff" stroke="#4a4a4a" stroke-width="0.75"/>
<circle cx="463.60" cy="293.90" r="1.3" fill="#fff" stroke="#4a4a4a" stroke-width="0.75"/>
<circle cx="461.40" cy="301.70" r="1.05" fill="#fff"/>
<circle cx="465.80" cy="302.40" r="1.05" fill="#fff"/>
<circle cx="463.60" cy="305.30" r="1.05" fill="#fff"/>
<line x1="470.32" y1="290.00" x2="470.32" y2="299.20" stroke="#333" stroke-width="0.6"/>
<line x1="468.82" y1="290.00" x2="471.82" y2="290.00" stroke="#333" stroke-width="0.6"/>
<rect x="467.37" y="299.20" width="5.90" height="76.50" fill="#c70a28"/>
<rect x="467.67" y="299.50" width="5.30" height="76.20" fill="none" stroke="#a0061e" stroke-width="0.6"/>
<circle cx="470.90" cy="282.70" r="1.3" fill="#fff" stroke="#4a4a4a" stroke-width="0.75"/>
<circle cx="470.90" cy="286.00" r="1.3" fill="#fff" stroke="#4a4a4a" stroke-width="0.75"/>
<circle cx="470.90" cy="290.00" r="1.3" fill="#fff" stroke="#4a4a4a" stroke-width="0.75"/>
<circle cx="470.90" cy="300.90" r="1.05" fill="#fff"/>
<circle cx="470.90" cy="308.20" r="1.05" fill="#fff"/>
<line x1="481.25" y1="290.70" x2="481.25" y2="294.40" stroke="#333" stroke-width="0.6"/>
<line x1="479.75" y1="290.70" x2="482.75" y2="290.70" stroke="#333" stroke-width="0.6"/>
<rect x="478.30" y="294.40" width="5.90" height="81.30" fill="#1b4a8c"/>
<rect x="478.60" y="294.70" width="5.30" height="81.00" fill="none" stroke="#0f3a72" stroke-width="0.6"/>
<circle cx="479.40" cy="282.20" r="1.3" fill="#fff" stroke="#4a4a4a" stroke-width="0.75"/>
<circle cx="483.30" cy="281.60" r="1.3" fill="#fff" stroke="#4a4a4a" stroke-width="0.75"/>
<circle cx="481.10" cy="287.00" r="1.3" fill="#fff" stroke="#4a4a4a" stroke-width="0.75"/>
<circle cx="481.10" cy="306.10" r="1.05" fill="#fff"/>
<circle cx="481.10" cy="313.40" r="1.05" fill="#fff"/>
<line x1="488.10" y1="284.60" x2="488.10" y2="290.00" stroke="#333" stroke-width="0.6"/>
<line x1="486.60" y1="284.60" x2="489.60" y2="284.60" stroke="#333" stroke-width="0.6"/>
<rect x="485.15" y="290.00" width="5.90" height="85.70" fill="#c70a28"/>
<rect x="485.45" y="290.30" width="5.30" height="85.40" fill="none" stroke="#a0061e" stroke-width="0.6"/>
<circle cx="488.40" cy="273.90" r="1.3" fill="#fff" stroke="#4a4a4a" stroke-width="0.75"/>
<circle cx="488.40" cy="278.70" r="1.3" fill="#fff" stroke="#4a4a4a" stroke-width="0.75"/>
<circle cx="486.50" cy="287.50" r="1.3" fill="#fff" stroke="#4a4a4a" stroke-width="0.75"/>
<circle cx="490.30" cy="287.80" r="1.3" fill="#fff" stroke="#4a4a4a" stroke-width="0.75"/>
<circle cx="486.20" cy="306.80" r="1.05" fill="#fff"/>
<circle cx="490.60" cy="305.60" r="1.05" fill="#fff"/>
<line x1="499.03" y1="277.50" x2="499.03" y2="281.20" stroke="#333" stroke-width="0.6"/>
<line x1="497.53" y1="277.50" x2="500.53" y2="277.50" stroke="#333" stroke-width="0.6"/>
<rect x="496.08" y="281.20" width="5.90" height="94.50" fill="#1b4a8c"/>
<rect x="496.38" y="281.50" width="5.30" height="94.20" fill="none" stroke="#0f3a72" stroke-width="0.6"/>
<circle cx="499.10" cy="267.00" r="1.3" fill="#fff" stroke="#4a4a4a" stroke-width="0.75"/>
<circle cx="499.10" cy="278.30" r="1.3" fill="#fff" stroke="#4a4a4a" stroke-width="0.75"/>
<circle cx="497.20" cy="283.10" r="1.05" fill="#fff"/>
<circle cx="501.00" cy="283.10" r="1.05" fill="#fff"/>
<circle cx="499.10" cy="291.90" r="1.05" fill="#fff"/>
<line x1="505.88" y1="281.20" x2="505.88" y2="288.50" stroke="#333" stroke-width="0.6"/>
<line x1="504.38" y1="281.20" x2="507.38" y2="281.20" stroke="#333" stroke-width="0.6"/>
<rect x="502.93" y="288.50" width="5.90" height="87.20" fill="#c70a28"/>
<rect x="503.23" y="288.80" width="5.30" height="86.90" fill="none" stroke="#a0061e" stroke-width="0.6"/>
<circle cx="506.40" cy="273.50" r="1.3" fill="#fff" stroke="#4a4a4a" stroke-width="0.75"/>
<circle cx="504.50" cy="282.20" r="1.3" fill="#fff" stroke="#4a4a4a" stroke-width="0.75"/>
<circle cx="508.20" cy="282.20" r="1.3" fill="#fff" stroke="#4a4a4a" stroke-width="0.75"/>
<circle cx="506.40" cy="299.80" r="1.05" fill="#fff"/>
<circle cx="506.40" cy="305.60" r="1.05" fill="#fff"/>
<line x1="385.50" y1="253.20" x2="385.50" y2="376.20" stroke="#1a1a1a" stroke-width="1"/>
<line x1="382.50" y1="256.70" x2="385.50" y2="256.70" stroke="#1a1a1a" stroke-width="0.9"/>
<text x="379.50" y="259.00" font-size="8.3" text-anchor="end" fill="#262626">−2</text>
<line x1="382.50" y1="273.70" x2="385.50" y2="273.70" stroke="#1a1a1a" stroke-width="0.9"/>
<text x="379.50" y="276.00" font-size="8.3" text-anchor="end" fill="#262626">−3</text>
<line x1="382.50" y1="290.70" x2="385.50" y2="290.70" stroke="#1a1a1a" stroke-width="0.9"/>
<text x="379.50" y="293.00" font-size="8.3" text-anchor="end" fill="#262626">−4</text>
<line x1="382.50" y1="307.70" x2="385.50" y2="307.70" stroke="#1a1a1a" stroke-width="0.9"/>
<text x="379.50" y="310.00" font-size="8.3" text-anchor="end" fill="#262626">−5</text>
<line x1="382.50" y1="324.70" x2="385.50" y2="324.70" stroke="#1a1a1a" stroke-width="0.9"/>
<text x="379.50" y="327.00" font-size="8.3" text-anchor="end" fill="#262626">−6</text>
<line x1="382.50" y1="341.70" x2="385.50" y2="341.70" stroke="#1a1a1a" stroke-width="0.9"/>
<text x="379.50" y="344.00" font-size="8.3" text-anchor="end" fill="#262626">−7</text>
<line x1="382.50" y1="358.70" x2="385.50" y2="358.70" stroke="#1a1a1a" stroke-width="0.9"/>
<text x="379.50" y="361.00" font-size="8.3" text-anchor="end" fill="#262626">−8</text>
<line x1="382.50" y1="375.70" x2="385.50" y2="375.70" stroke="#1a1a1a" stroke-width="0.9"/>
<text x="379.50" y="378.00" font-size="8.3" text-anchor="end" fill="#262626">−9</text>
<line x1="382.70" y1="375.70" x2="512.50" y2="375.70" stroke="#1a1a1a" stroke-width="1"/>
<line x1="395.80" y1="375.70" x2="395.80" y2="378.70" stroke="#1a1a1a" stroke-width="0.9"/>
<text x="395.80" y="389.50" font-size="8.3" text-anchor="middle" fill="#262626">0</text>
<line x1="413.58" y1="375.70" x2="413.58" y2="378.70" stroke="#1a1a1a" stroke-width="0.9"/>
<text x="413.58" y="389.50" font-size="8.3" text-anchor="middle" fill="#262626">1</text>
<line x1="431.36" y1="375.70" x2="431.36" y2="378.70" stroke="#1a1a1a" stroke-width="0.9"/>
<text x="431.36" y="389.50" font-size="8.3" text-anchor="middle" fill="#262626">2</text>
<line x1="449.14" y1="375.70" x2="449.14" y2="378.70" stroke="#1a1a1a" stroke-width="0.9"/>
<text x="449.14" y="389.50" font-size="8.3" text-anchor="middle" fill="#262626">3</text>
<line x1="466.92" y1="375.70" x2="466.92" y2="378.70" stroke="#1a1a1a" stroke-width="0.9"/>
<text x="466.92" y="389.50" font-size="8.3" text-anchor="middle" fill="#262626">4</text>
<line x1="484.70" y1="375.70" x2="484.70" y2="378.70" stroke="#1a1a1a" stroke-width="0.9"/>
<text x="484.70" y="389.50" font-size="8.3" text-anchor="middle" fill="#262626">5</text>
<line x1="502.48" y1="375.70" x2="502.48" y2="378.70" stroke="#1a1a1a" stroke-width="0.9"/>
<text x="502.48" y="389.50" font-size="8.3" text-anchor="middle" fill="#262626">6</text>
<text x="449.14" y="403.40" font-size="10" text-anchor="middle" fill="#262626" textLength="80.5" lengthAdjust="spacingAndGlyphs">Days after phlebotomy</text>
<text x="364.60" y="310.50" font-size="9" text-anchor="middle" fill="#262626" textLength="17.4" lengthAdjust="spacingAndGlyphs" transform="rotate(-90 364.60 310.50)">-ΔCt</text>
<rect x="245.00" y="199.20" width="5.70" height="5.60" fill="#1b4a8c"/>
<text x="254.10" y="204.40" font-size="8" text-anchor="start" fill="#262626" textLength="12.7" lengthAdjust="spacingAndGlyphs">WT</text>
<rect x="273.20" y="199.20" width="5.80" height="5.60" fill="#c70a28"/>
<text x="282.50" y="204.40" font-size="8" text-anchor="start" fill="#262626" font-style="italic" textLength="15" lengthAdjust="spacingAndGlyphs">Erfe</text>
<text x="297.60" y="201.40" font-size="5" text-anchor="start" fill="#262626" textLength="7.5" lengthAdjust="spacingAndGlyphs">−/−</text>
<rect x="0" y="0" width="520" height="1" fill="#3a3a3a"/>
<rect x="0" y="412" width="520" height="1" fill="#262626"/>
<rect x="0" y="0" width="1" height="413" fill="#555"/>
<rect x="519" y="0" width="1" height="413" fill="#5a5a5a"/>
</svg>
</body></html>
